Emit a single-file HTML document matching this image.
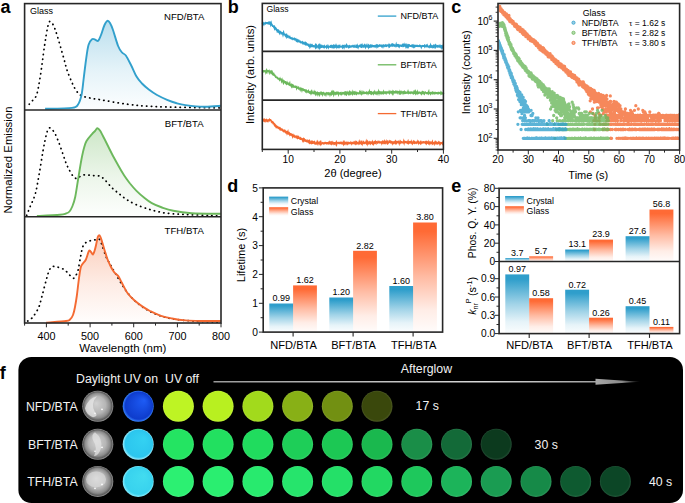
<!DOCTYPE html><html><head><meta charset="utf-8"><style>html,body{margin:0;padding:0;background:#fff;overflow:hidden}svg{display:block;font-family:"Liberation Sans",sans-serif}</style></head><body><svg width="685" height="503" viewBox="0 0 685 503" font-family="Liberation Sans, sans-serif"><defs><linearGradient id="gb" x1="0" y1="0" x2="0" y2="1"><stop offset="0" stop-color="#32a0cc" stop-opacity="0.34"/><stop offset="0.55" stop-color="#32a0cc" stop-opacity="0.13"/><stop offset="1" stop-color="#32a0cc" stop-opacity="0.01"/></linearGradient><linearGradient id="gg" x1="0" y1="0" x2="0" y2="1"><stop offset="0" stop-color="#6cb85c" stop-opacity="0.34"/><stop offset="0.55" stop-color="#6cb85c" stop-opacity="0.13"/><stop offset="1" stop-color="#6cb85c" stop-opacity="0.01"/></linearGradient><linearGradient id="go" x1="0" y1="0" x2="0" y2="1"><stop offset="0" stop-color="#f46a32" stop-opacity="0.34"/><stop offset="0.55" stop-color="#f46a32" stop-opacity="0.13"/><stop offset="1" stop-color="#f46a32" stop-opacity="0.01"/></linearGradient><clipPath id="cclip"><rect x="498.6" y="4.1" width="180.4" height="145.3"/></clipPath><linearGradient id="bb" x1="0" y1="0" x2="0" y2="1"><stop offset="0" stop-color="#2f9ecb"/><stop offset="0.08" stop-color="#2f9ecb"/><stop offset="0.5" stop-color="#2f9ecb" stop-opacity="0.45"/><stop offset="0.8" stop-color="#2f9ecb" stop-opacity="0.12"/><stop offset="1" stop-color="#2f9ecb" stop-opacity="0.02"/></linearGradient><linearGradient id="bo" x1="0" y1="0" x2="0" y2="1"><stop offset="0" stop-color="#ff6a35"/><stop offset="0.08" stop-color="#ff6a35"/><stop offset="0.5" stop-color="#ff6a35" stop-opacity="0.45"/><stop offset="0.8" stop-color="#ff6a35" stop-opacity="0.12"/><stop offset="1" stop-color="#ff6a35" stop-opacity="0.02"/></linearGradient><linearGradient id="dbb" gradientUnits="userSpaceOnUse" x1="0" y1="286" x2="0" y2="332.1"><stop offset="0" stop-color="#3a9dc9"/><stop offset="0.25" stop-color="#3a9dc9"/><stop offset="1" stop-color="#3a9dc9" stop-opacity="0"/></linearGradient><linearGradient id="dbo" gradientUnits="userSpaceOnUse" x1="0" y1="222.5" x2="0" y2="332.1"><stop offset="0" stop-color="#ff6a36"/><stop offset="0.12" stop-color="#ff6a36"/><stop offset="1" stop-color="#ff6a36" stop-opacity="0"/></linearGradient><linearGradient id="e1b" gradientUnits="userSpaceOnUse" x1="0" y1="236.2" x2="0" y2="261.5"><stop offset="0" stop-color="#3a9dc9"/><stop offset="1" stop-color="#3a9dc9" stop-opacity="0"/></linearGradient><linearGradient id="e1o" gradientUnits="userSpaceOnUse" x1="0" y1="209.5" x2="0" y2="261.5"><stop offset="0" stop-color="#ff6a36"/><stop offset="0.1" stop-color="#ff6a36"/><stop offset="1" stop-color="#ff6a36" stop-opacity="0"/></linearGradient><linearGradient id="e2b" gradientUnits="userSpaceOnUse" x1="0" y1="274.4" x2="0" y2="333.6"><stop offset="0" stop-color="#3a9dc9"/><stop offset="0.1" stop-color="#3a9dc9"/><stop offset="1" stop-color="#3a9dc9" stop-opacity="0"/></linearGradient><linearGradient id="e2o" gradientUnits="userSpaceOnUse" x1="0" y1="298.2" x2="0" y2="333.6"><stop offset="0" stop-color="#ff6a36"/><stop offset="0.1" stop-color="#ff6a36"/><stop offset="1" stop-color="#ff6a36" stop-opacity="0"/></linearGradient><linearGradient id="arr" x1="0" y1="0" x2="1" y2="0"><stop offset="0" stop-color="#9a9a9a"/><stop offset="0.7" stop-color="#d8d8d8"/><stop offset="1" stop-color="#a0a0a0"/></linearGradient><linearGradient id="arrh" x1="0" y1="0" x2="1" y2="0"><stop offset="0" stop-color="#a8a8a8"/><stop offset="0.6" stop-color="#8a8a8a"/><stop offset="1" stop-color="#111"/></linearGradient><radialGradient id="day" cx="0.5" cy="0.5" r="0.5" fx="0.45" fy="0.4"><stop offset="0" stop-color="#d2d2d2"/><stop offset="0.55" stop-color="#b6b6b6"/><stop offset="0.8" stop-color="#8c8c8c"/><stop offset="0.92" stop-color="#5c5c5c"/><stop offset="1" stop-color="#9c9c9c"/></radialGradient><radialGradient id="uv0" cx="0.5" cy="0.5" r="0.5" fx="0.7" fy="0.3"><stop offset="0" stop-color="#1e5cf6"/><stop offset="0.88" stop-color="#0e3ccc"/><stop offset="1" stop-color="#3a86ff"/></radialGradient><radialGradient id="o0_0" cx="0.5" cy="0.5" r="0.5" fx="0.4" fy="0.35"><stop offset="0" stop-color="#bef424"/><stop offset="0.7" stop-color="#bef424"/><stop offset="0.9" stop-color="#bef424"/><stop offset="1" stop-color="#c4f539"/></radialGradient><radialGradient id="o0_1" cx="0.5" cy="0.5" r="0.5" fx="0.4" fy="0.35"><stop offset="0" stop-color="#b8f020"/><stop offset="0.7" stop-color="#b8f020"/><stop offset="0.9" stop-color="#b8f020"/><stop offset="1" stop-color="#bff136"/></radialGradient><radialGradient id="o0_2" cx="0.5" cy="0.5" r="0.5" fx="0.4" fy="0.35"><stop offset="0" stop-color="#a2da1c"/><stop offset="0.7" stop-color="#a2da1c"/><stop offset="0.9" stop-color="#a2da1c"/><stop offset="1" stop-color="#abdd32"/></radialGradient><radialGradient id="o0_3" cx="0.5" cy="0.5" r="0.5" fx="0.4" fy="0.35"><stop offset="0" stop-color="#88b016"/><stop offset="0.7" stop-color="#88b016"/><stop offset="0.9" stop-color="#88b016"/><stop offset="1" stop-color="#93b72d"/></radialGradient><radialGradient id="o0_4" cx="0.5" cy="0.5" r="0.5" fx="0.4" fy="0.35"><stop offset="0" stop-color="#729012"/><stop offset="0.7" stop-color="#729012"/><stop offset="0.9" stop-color="#729012"/><stop offset="1" stop-color="#809b29"/></radialGradient><radialGradient id="o0_5" cx="0.5" cy="0.5" r="0.5" fx="0.4" fy="0.35"><stop offset="0" stop-color="#3a480c"/><stop offset="0.7" stop-color="#3a480c"/><stop offset="0.9" stop-color="#3a480c"/><stop offset="1" stop-color="#4d5a24"/></radialGradient><radialGradient id="uv1" cx="0.5" cy="0.5" r="0.5" fx="0.7" fy="0.3"><stop offset="0" stop-color="#34d2f2"/><stop offset="0.88" stop-color="#2cc6ee"/><stop offset="1" stop-color="#a0f0ff"/></radialGradient><radialGradient id="o1_0" cx="0.5" cy="0.5" r="0.5" fx="0.4" fy="0.35"><stop offset="0" stop-color="#24e462"/><stop offset="0.7" stop-color="#24e462"/><stop offset="0.9" stop-color="#24e462"/><stop offset="1" stop-color="#39e671"/></radialGradient><radialGradient id="o1_1" cx="0.5" cy="0.5" r="0.5" fx="0.4" fy="0.35"><stop offset="0" stop-color="#22e060"/><stop offset="0.7" stop-color="#22e060"/><stop offset="0.9" stop-color="#22e060"/><stop offset="1" stop-color="#38e36f"/></radialGradient><radialGradient id="o1_2" cx="0.5" cy="0.5" r="0.5" fx="0.4" fy="0.35"><stop offset="0" stop-color="#20dc5e"/><stop offset="0.7" stop-color="#20dc5e"/><stop offset="0.9" stop-color="#20dc5e"/><stop offset="1" stop-color="#36df6e"/></radialGradient><radialGradient id="o1_3" cx="0.5" cy="0.5" r="0.5" fx="0.4" fy="0.35"><stop offset="0" stop-color="#1ece58"/><stop offset="0.7" stop-color="#1ece58"/><stop offset="0.9" stop-color="#1ece58"/><stop offset="1" stop-color="#34d268"/></radialGradient><radialGradient id="o1_4" cx="0.5" cy="0.5" r="0.5" fx="0.4" fy="0.35"><stop offset="0" stop-color="#1cc854"/><stop offset="0.7" stop-color="#1cc854"/><stop offset="0.9" stop-color="#1cc854"/><stop offset="1" stop-color="#32cd65"/></radialGradient><radialGradient id="o1_5" cx="0.5" cy="0.5" r="0.5" fx="0.4" fy="0.35"><stop offset="0" stop-color="#1ab84e"/><stop offset="0.7" stop-color="#1ab84e"/><stop offset="0.9" stop-color="#1ab84e"/><stop offset="1" stop-color="#30bf5f"/></radialGradient><radialGradient id="o1_6" cx="0.5" cy="0.5" r="0.5" fx="0.4" fy="0.35"><stop offset="0" stop-color="#1a8e48"/><stop offset="0.7" stop-color="#1a8e48"/><stop offset="0.9" stop-color="#1a8e48"/><stop offset="1" stop-color="#30995a"/></radialGradient><radialGradient id="o1_7" cx="0.5" cy="0.5" r="0.5" fx="0.4" fy="0.35"><stop offset="0" stop-color="#136a38"/><stop offset="0.7" stop-color="#136a38"/><stop offset="0.9" stop-color="#136a38"/><stop offset="1" stop-color="#2a784b"/></radialGradient><radialGradient id="o1_8" cx="0.5" cy="0.5" r="0.5" fx="0.4" fy="0.35"><stop offset="0" stop-color="#0c3a1e"/><stop offset="0.7" stop-color="#0c3a1e"/><stop offset="0.9" stop-color="#0c3a1e"/><stop offset="1" stop-color="#244d34"/></radialGradient><radialGradient id="uv2" cx="0.5" cy="0.5" r="0.5" fx="0.7" fy="0.3"><stop offset="0" stop-color="#42dcf0"/><stop offset="0.88" stop-color="#38d2ee"/><stop offset="1" stop-color="#88eeff"/></radialGradient><radialGradient id="o2_0" cx="0.5" cy="0.5" r="0.5" fx="0.4" fy="0.35"><stop offset="0" stop-color="#2cf072"/><stop offset="0.7" stop-color="#2cf072"/><stop offset="0.9" stop-color="#2cf072"/><stop offset="1" stop-color="#41f180"/></radialGradient><radialGradient id="o2_1" cx="0.5" cy="0.5" r="0.5" fx="0.4" fy="0.35"><stop offset="0" stop-color="#2aee70"/><stop offset="0.7" stop-color="#2aee70"/><stop offset="0.9" stop-color="#2aee70"/><stop offset="1" stop-color="#3fef7e"/></radialGradient><radialGradient id="o2_2" cx="0.5" cy="0.5" r="0.5" fx="0.4" fy="0.35"><stop offset="0" stop-color="#28ea6e"/><stop offset="0.7" stop-color="#28ea6e"/><stop offset="0.9" stop-color="#28ea6e"/><stop offset="1" stop-color="#3dec7c"/></radialGradient><radialGradient id="o2_3" cx="0.5" cy="0.5" r="0.5" fx="0.4" fy="0.35"><stop offset="0" stop-color="#26e46c"/><stop offset="0.7" stop-color="#26e46c"/><stop offset="0.9" stop-color="#26e46c"/><stop offset="1" stop-color="#3be67a"/></radialGradient><radialGradient id="o2_4" cx="0.5" cy="0.5" r="0.5" fx="0.4" fy="0.35"><stop offset="0" stop-color="#24e068"/><stop offset="0.7" stop-color="#24e068"/><stop offset="0.9" stop-color="#24e068"/><stop offset="1" stop-color="#39e377"/></radialGradient><radialGradient id="o2_5" cx="0.5" cy="0.5" r="0.5" fx="0.4" fy="0.35"><stop offset="0" stop-color="#22d862"/><stop offset="0.7" stop-color="#22d862"/><stop offset="0.9" stop-color="#22d862"/><stop offset="1" stop-color="#38db71"/></radialGradient><radialGradient id="o2_6" cx="0.5" cy="0.5" r="0.5" fx="0.4" fy="0.35"><stop offset="0" stop-color="#1ec85c"/><stop offset="0.7" stop-color="#1ec85c"/><stop offset="0.9" stop-color="#1ec85c"/><stop offset="1" stop-color="#34cd6c"/></radialGradient><radialGradient id="o2_7" cx="0.5" cy="0.5" r="0.5" fx="0.4" fy="0.35"><stop offset="0" stop-color="#1cb45a"/><stop offset="0.7" stop-color="#1cb45a"/><stop offset="0.9" stop-color="#1cb45a"/><stop offset="1" stop-color="#32bb6a"/></radialGradient><radialGradient id="o2_8" cx="0.5" cy="0.5" r="0.5" fx="0.4" fy="0.35"><stop offset="0" stop-color="#1a9c52"/><stop offset="0.7" stop-color="#1a9c52"/><stop offset="0.9" stop-color="#1a9c52"/><stop offset="1" stop-color="#30a563"/></radialGradient><radialGradient id="o2_9" cx="0.5" cy="0.5" r="0.5" fx="0.4" fy="0.35"><stop offset="0" stop-color="#168a48"/><stop offset="0.7" stop-color="#168a48"/><stop offset="0.9" stop-color="#168a48"/><stop offset="1" stop-color="#2d955a"/></radialGradient><radialGradient id="o2_10" cx="0.5" cy="0.5" r="0.5" fx="0.4" fy="0.35"><stop offset="0" stop-color="#0e5a30"/><stop offset="0.7" stop-color="#0e5a30"/><stop offset="0.9" stop-color="#0e5a30"/><stop offset="1" stop-color="#266a44"/></radialGradient><radialGradient id="o2_11" cx="0.5" cy="0.5" r="0.5" fx="0.4" fy="0.35"><stop offset="0" stop-color="#0c4626"/><stop offset="0.7" stop-color="#0c4626"/><stop offset="0.9" stop-color="#0c4626"/><stop offset="1" stop-color="#24583b"/></radialGradient></defs><rect width="685" height="503" fill="#fff"/><path d="M45.1,108.8 C49.6,108.7 66.6,108.7 72.1,107.9 C77.6,107.1 76.6,106.4 78.2,104.2 C79.8,102 80.6,99 81.5,95 C82.4,91 82.8,85.8 83.5,80 C84.2,74.2 85.2,65.8 86,60 C86.8,54.2 87.5,48.5 88.5,45 C89.5,41.5 90.8,40.1 92,39.2 C93.2,38.3 94.5,39.5 95.5,39.8 C96.5,40.1 97.3,41.6 98.2,40.8 C99.1,40 100,37.6 101,35 C102,32.4 103.4,27.4 104.5,25 C105.6,22.6 106.5,21.1 107.4,20.8 C108.3,20.5 109.1,21.5 110,23 C110.9,24.5 111.7,26.2 113,30 C114.3,33.8 116.6,42.2 118.1,46 C119.6,49.8 120.7,50.9 122,52.5 C123.3,54.1 124.3,53.4 125.8,55.5 C127.3,57.6 129.2,61.5 131,65 C132.8,68.5 134.7,73.5 136.5,76.6 C138.3,79.7 139.9,81.3 142,83.5 C144.1,85.7 146.3,87.6 148.8,89.5 C151.3,91.4 153.9,93.3 157,95 C160.1,96.7 163.9,98.5 167.1,99.8 C170.3,101.1 172.9,102.1 176,103 C179.1,103.9 180.8,104.5 185.5,105.1 C190.2,105.7 198.1,106.6 204,106.7 C209.9,106.8 218,106 220.8,105.8 L220.8,110 L45.1,110 Z" fill="url(#gb)" stroke="none"/>
<path d="M29.2,104.2 C29.8,103.5 31.7,101.7 33,100 C34.3,98.3 35.6,98.2 36.9,94 C38.1,89.8 39.2,83 40.5,75 C41.8,67 43.3,53.8 44.5,46 C45.7,38.2 46.6,32.1 47.5,28 C48.4,23.9 48.8,22.1 49.7,21.5 C50.6,20.9 51.8,22.2 53,24.5 C54.2,26.8 55.4,29.9 57,35 C58.6,40.1 61.2,49.4 62.9,55.2 C64.6,61 65.5,65.4 67,70 C68.5,74.6 70.5,79.3 72.1,82.8 C73.7,86.3 75,88.9 76.5,91 C78,93.1 79,94.4 81.3,95.6 C83.5,96.8 86.9,97.3 90,98 C93.1,98.7 93.5,98.6 99.7,99.6 C105.9,100.6 117.6,103 127.3,104.2 C137,105.4 142.4,106.1 158,106.7 C173.6,107.3 210.3,107.7 220.8,107.9" fill="none" stroke="#000" stroke-width="1.75" stroke-dasharray="0.3 4.5" stroke-linecap="round"/>
<path d="M45.1,108.8 C49.6,108.7 66.6,108.7 72.1,107.9 C77.6,107.1 76.6,106.4 78.2,104.2 C79.8,102 80.6,99 81.5,95 C82.4,91 82.8,85.8 83.5,80 C84.2,74.2 85.2,65.8 86,60 C86.8,54.2 87.5,48.5 88.5,45 C89.5,41.5 90.8,40.1 92,39.2 C93.2,38.3 94.5,39.5 95.5,39.8 C96.5,40.1 97.3,41.6 98.2,40.8 C99.1,40 100,37.6 101,35 C102,32.4 103.4,27.4 104.5,25 C105.6,22.6 106.5,21.1 107.4,20.8 C108.3,20.5 109.1,21.5 110,23 C110.9,24.5 111.7,26.2 113,30 C114.3,33.8 116.6,42.2 118.1,46 C119.6,49.8 120.7,50.9 122,52.5 C123.3,54.1 124.3,53.4 125.8,55.5 C127.3,57.6 129.2,61.5 131,65 C132.8,68.5 134.7,73.5 136.5,76.6 C138.3,79.7 139.9,81.3 142,83.5 C144.1,85.7 146.3,87.6 148.8,89.5 C151.3,91.4 153.9,93.3 157,95 C160.1,96.7 163.9,98.5 167.1,99.8 C170.3,101.1 172.9,102.1 176,103 C179.1,103.9 180.8,104.5 185.5,105.1 C190.2,105.7 198.1,106.6 204,106.7 C209.9,106.8 218,106 220.8,105.8" fill="none" stroke="#32a0cc" stroke-width="1.9" stroke-linejoin="round"/>
<text x="184.2" y="20.2" font-size="9.6" text-anchor="middle" fill="#000">NFD/BTA</text>
<path d="M36.9,216 C40.7,215.8 55,215.1 59.9,214.7 C64.8,214.3 64.4,214 66,213.5 C67.6,213 68.4,212.8 69.5,211.5 C70.6,210.2 71.5,208.4 72.5,206 C73.5,203.6 74.3,201.3 75.2,197 C76.1,192.7 77,186.1 78,180 C79,173.9 80.3,165.5 81.3,160.2 C82.3,154.9 83.1,151.2 84,148 C84.9,144.8 85.2,143.3 86.5,141 C87.8,138.7 90.6,135.8 92,134.1 C93.4,132.4 94.1,132 95,131 C95.9,130 96.5,128.3 97.3,128.2 C98.1,128.1 99.1,129.2 100,130.5 C100.9,131.8 101.6,133.4 102.8,135.7 C104,137.9 105.5,140.9 107,144 C108.5,147.1 110.2,150.5 112,154 C113.8,157.5 116,161.4 118,165 C120,168.6 122.2,172.4 124.2,175.5 C126.2,178.6 128,180.9 130,183.5 C132.1,186.1 134.2,188.5 136.5,190.8 C138.8,193.1 141.4,195.4 144,197.5 C146.6,199.6 148.8,201.4 151.8,203.1 C154.8,204.8 158.4,206.2 162,207.5 C165.6,208.8 168.4,209.9 173.3,210.8 C178.2,211.8 183.8,212.7 191.7,213.2 C199.6,213.7 216,213.7 220.8,213.8 L220.8,216.7 L36.9,216.7 Z" fill="url(#gg)" stroke="none"/>
<path d="M26.7,215.4 C27.2,214 28.6,210.6 30,207 C31.4,203.4 33.8,199.2 35.3,193.9 C36.8,188.6 37.7,182.2 39,175 C40.3,167.8 41.8,157.8 43,151 C44.2,144.2 45.5,137.8 46.5,134 C47.5,130.2 48.2,128.8 49.1,128 C50,127.2 51,128.5 52,129.5 C53,130.5 54.1,131.8 55.3,134.1 C56.5,136.3 57.7,139.7 59,143 C60.3,146.3 61.7,150.7 62.9,154 C64.1,157.3 65,160.4 66,163 C67,165.6 67.8,167.2 69,169.4 C70.2,171.6 71.7,174.5 73,176 C74.3,177.5 75.5,178.5 76.7,178.6 C77.9,178.7 78.7,177.1 80,176.5 C81.3,175.9 82.4,175.1 84.4,174.9 C86.4,174.7 89.5,175.3 92,175.5 C94.5,175.7 97.5,175.3 99.7,176.1 C101.9,176.8 103,178.1 105,180 C107,181.9 109.5,185.4 112,187.8 C114.5,190.2 117.5,192.5 120,194.5 C122.5,196.5 124.5,198.2 127.3,200 C130.1,201.8 133.4,203.5 137,205 C140.6,206.5 145,208 148.8,209.2 C152.6,210.4 155.9,211.2 160,212 C164.1,212.8 163.2,213.1 173.3,213.8 C183.4,214.5 212.9,215.6 220.8,216" fill="none" stroke="#000" stroke-width="1.75" stroke-dasharray="0.3 4.5" stroke-linecap="round"/>
<path d="M36.9,216 C40.7,215.8 55,215.1 59.9,214.7 C64.8,214.3 64.4,214 66,213.5 C67.6,213 68.4,212.8 69.5,211.5 C70.6,210.2 71.5,208.4 72.5,206 C73.5,203.6 74.3,201.3 75.2,197 C76.1,192.7 77,186.1 78,180 C79,173.9 80.3,165.5 81.3,160.2 C82.3,154.9 83.1,151.2 84,148 C84.9,144.8 85.2,143.3 86.5,141 C87.8,138.7 90.6,135.8 92,134.1 C93.4,132.4 94.1,132 95,131 C95.9,130 96.5,128.3 97.3,128.2 C98.1,128.1 99.1,129.2 100,130.5 C100.9,131.8 101.6,133.4 102.8,135.7 C104,137.9 105.5,140.9 107,144 C108.5,147.1 110.2,150.5 112,154 C113.8,157.5 116,161.4 118,165 C120,168.6 122.2,172.4 124.2,175.5 C126.2,178.6 128,180.9 130,183.5 C132.1,186.1 134.2,188.5 136.5,190.8 C138.8,193.1 141.4,195.4 144,197.5 C146.6,199.6 148.8,201.4 151.8,203.1 C154.8,204.8 158.4,206.2 162,207.5 C165.6,208.8 168.4,209.9 173.3,210.8 C178.2,211.8 183.8,212.7 191.7,213.2 C199.6,213.7 216,213.7 220.8,213.8" fill="none" stroke="#6cb85c" stroke-width="1.9" stroke-linejoin="round"/>
<text x="184.2" y="126.7" font-size="9.6" text-anchor="middle" fill="#000">BFT/BTA</text>
<path d="M46.1,322.6 C49.4,322.3 62,321.5 66,321 C70,320.5 68.8,320.5 70,319.5 C71.2,318.5 72.2,317.1 73,315 C73.8,312.9 74.4,310.2 75,307 C75.6,303.8 76.2,300.2 76.8,296 C77.4,291.8 77.9,286.7 78.5,282 C79.1,277.3 79.9,271.1 80.6,268 C81.3,264.9 82,264.9 82.9,263.5 C83.8,262.1 84.9,261.6 85.9,259.5 C86.9,257.4 88.1,252.2 88.9,251 C89.8,249.8 90.3,251.4 91,252 C91.7,252.6 92.3,254.7 92.9,254.5 C93.5,254.3 94,252.5 94.5,251 C95,249.5 95.5,247.6 96,245.3 C96.5,243 97.3,238.7 97.8,237 C98.3,235.3 98.6,235.1 99.1,235.1 C99.5,235.1 100,235.8 100.5,237 C101,238.2 101.5,240 102.2,242.2 C102.9,244.4 103.6,247.2 104.5,250 C105.4,252.8 106.5,256.5 107.4,259 C108.3,261.5 109,262.9 110,265 C111,267.1 112.5,269.8 113.5,271.3 C114.5,272.8 115.2,273.2 116,274 C116.8,274.8 117.1,274.4 118.1,275.9 C119.1,277.4 120.5,280.2 122,283 C123.5,285.8 125.3,290 127.3,292.8 C129.3,295.6 131.4,297.7 134,300 C136.6,302.3 139.9,304.8 142.6,306.6 C145.3,308.4 146.9,309.5 150,311 C153.1,312.5 157.3,314.6 161,315.8 C164.7,317.1 167.9,317.7 172,318.5 C176.1,319.3 180.8,320 185.5,320.4 C190.2,320.8 194.1,320.9 200,321 C205.9,321.1 217.3,321 220.8,321 L220.8,323 L46.1,323 Z" fill="url(#go)" stroke="none"/>
<path d="M27.7,321 C28.4,320.5 30.2,320.1 32,318 C33.8,315.9 36.7,311.8 38.4,308.1 C40.1,304.4 40.7,300.6 42,296 C43.3,291.4 44.9,284.7 46.1,280.5 C47.3,276.3 48,273.3 49,271 C50,268.7 50.9,267.4 52.2,266.7 C53.5,266 55.2,266.6 57,267 C58.8,267.4 61.2,268.1 62.9,268.9 C64.6,269.7 65.4,270.5 67,272 C68.6,273.5 71.3,277.4 72.7,278.1 C74.1,278.8 74.6,277.4 75.5,276 C76.4,274.6 77.4,273 78.2,269.8 C79,266.6 79.7,260.8 80.5,257 C81.3,253.2 81.9,249.2 82.8,246.8 C83.7,244.4 84.7,243.5 86,242.5 C87.3,241.5 89,241.1 90.5,240.7 C92,240.2 93.6,240.1 95,239.8 C96.4,239.5 97.9,238.2 99.1,239.1 C100.3,240 100.9,242.2 102,245 C103.1,247.8 104.5,252.8 105.8,256 C107.1,259.2 108.5,261.2 110,264 C111.5,266.8 113.2,269.6 115,272.8 C116.8,276 119,279.7 121,283 C123,286.3 125,289.5 127.3,292.5 C129.6,295.5 131.9,298.2 135,301 C138.1,303.8 141.9,306.7 145.7,309 C149.5,311.3 153.4,313.3 158,315 C162.6,316.7 167.1,318 173.3,319 C179.5,320 187.1,320.7 195,321.2 C202.9,321.7 216.5,321.9 220.8,322" fill="none" stroke="#000" stroke-width="1.75" stroke-dasharray="0.3 4.5" stroke-linecap="round"/>
<path d="M46.1,322.6 C49.4,322.3 62,321.5 66,321 C70,320.5 68.8,320.5 70,319.5 C71.2,318.5 72.2,317.1 73,315 C73.8,312.9 74.4,310.2 75,307 C75.6,303.8 76.2,300.2 76.8,296 C77.4,291.8 77.9,286.7 78.5,282 C79.1,277.3 79.9,271.1 80.6,268 C81.3,264.9 82,264.9 82.9,263.5 C83.8,262.1 84.9,261.6 85.9,259.5 C86.9,257.4 88.1,252.2 88.9,251 C89.8,249.8 90.3,251.4 91,252 C91.7,252.6 92.3,254.7 92.9,254.5 C93.5,254.3 94,252.5 94.5,251 C95,249.5 95.5,247.6 96,245.3 C96.5,243 97.3,238.7 97.8,237 C98.3,235.3 98.6,235.1 99.1,235.1 C99.5,235.1 100,235.8 100.5,237 C101,238.2 101.5,240 102.2,242.2 C102.9,244.4 103.6,247.2 104.5,250 C105.4,252.8 106.5,256.5 107.4,259 C108.3,261.5 109,262.9 110,265 C111,267.1 112.5,269.8 113.5,271.3 C114.5,272.8 115.2,273.2 116,274 C116.8,274.8 117.1,274.4 118.1,275.9 C119.1,277.4 120.5,280.2 122,283 C123.5,285.8 125.3,290 127.3,292.8 C129.3,295.6 131.4,297.7 134,300 C136.6,302.3 139.9,304.8 142.6,306.6 C145.3,308.4 146.9,309.5 150,311 C153.1,312.5 157.3,314.6 161,315.8 C164.7,317.1 167.9,317.7 172,318.5 C176.1,319.3 180.8,320 185.5,320.4 C190.2,320.8 194.1,320.9 200,321 C205.9,321.1 217.3,321 220.8,321" fill="none" stroke="#f46a32" stroke-width="1.9" stroke-linejoin="round"/>
<text x="184.2" y="233.5" font-size="9.6" text-anchor="middle" fill="#000">TFH/BTA</text>
<rect x="24.6" y="3.6" width="196.4" height="319.4" fill="none" stroke="#262626" stroke-width="1.6"/>
<line x1="24.6" y1="110" x2="221" y2="110" stroke="#262626" stroke-width="1.6"/>
<line x1="24.6" y1="216.7" x2="221" y2="216.7" stroke="#262626" stroke-width="1.6"/>
<line x1="24.6" y1="323" x2="24.6" y2="325.6" stroke="#262626" stroke-width="1"/>
<line x1="46.4" y1="323" x2="46.4" y2="327.3" stroke="#262626" stroke-width="1"/>
<text x="46.4" y="340" font-size="10.8" text-anchor="middle" fill="#000">400</text>
<line x1="68.2" y1="323" x2="68.2" y2="325.6" stroke="#262626" stroke-width="1"/>
<line x1="90.1" y1="323" x2="90.1" y2="327.3" stroke="#262626" stroke-width="1"/>
<text x="90.1" y="340" font-size="10.8" text-anchor="middle" fill="#000">500</text>
<line x1="111.9" y1="323" x2="111.9" y2="325.6" stroke="#262626" stroke-width="1"/>
<line x1="133.7" y1="323" x2="133.7" y2="327.3" stroke="#262626" stroke-width="1"/>
<text x="133.7" y="340" font-size="10.8" text-anchor="middle" fill="#000">600</text>
<line x1="155.5" y1="323" x2="155.5" y2="325.6" stroke="#262626" stroke-width="1"/>
<line x1="177.4" y1="323" x2="177.4" y2="327.3" stroke="#262626" stroke-width="1"/>
<text x="177.4" y="340" font-size="10.8" text-anchor="middle" fill="#000">700</text>
<line x1="199.2" y1="323" x2="199.2" y2="325.6" stroke="#262626" stroke-width="1"/>
<line x1="221" y1="323" x2="221" y2="327.3" stroke="#262626" stroke-width="1"/>
<text x="221" y="340" font-size="10.8" text-anchor="middle" fill="#000">800</text>
<text x="122.8" y="352.1" font-size="11.5" text-anchor="middle" fill="#000">Wavelength (nm)</text>
<text x="41.6" y="14.3" font-size="9" text-anchor="middle" fill="#000">Glass</text>
<text x="11.7" y="160" font-size="11.4" text-anchor="middle" fill="#000" transform="rotate(-90 11.7 160)">Normalized Emission</text>
<text x="0.5" y="13.4" font-size="18" text-anchor="start" font-weight="bold" fill="#000">a</text>
<path d="M262.3,23.2 L262.6,23.6 L262.8,22.9 L263.1,23.5 L263.3,23.1 L263.6,23.2 L263.9,23.9 L264.1,23.3 L264.4,23.2 L264.6,23.5 L264.9,23.6 L265.1,23.3 L265.4,23.5 L265.7,23 L265.9,23.2 L266.2,23.2 L266.4,22.9 L266.7,22.8 L267,22.8 L267.2,23.3 L267.5,23.3 L267.7,23.2 L268,23.4 L268.3,22.9 L268.5,23.3 L268.8,23.5 L269,23.6 L269.3,23.1 L269.5,23.3 L269.8,22.7 L270.1,23.3 L270.3,22.7 L270.6,23 L270.8,24.1 L271.1,23.3 L271.4,24.5 L271.6,24.7 L271.9,24.7 L272.1,25.3 L272.4,25.6 L272.6,26 L272.9,25.9 L273.2,26.1 L273.4,26.3 L273.7,26.5 L273.9,27.1 L274.2,27.1 L274.5,28 L274.7,27.3 L275,27.9 L275.2,28.2 L275.5,28.1 L275.8,29.7 L276,28.6 L276.3,29.6 L276.5,29.8 L276.8,30.8 L277,29.7 L277.3,30.9 L277.6,30.4 L277.8,30.7 L278.1,30.7 L278.3,31.3 L278.6,30.8 L278.9,31.3 L279.1,31.6 L279.4,32.3 L279.6,31 L279.9,32.4 L280.2,32.4 L280.4,32.1 L280.7,32.5 L280.9,32.4 L281.2,33.2 L281.4,32.9 L281.7,32.9 L282,33 L282.2,33.2 L282.5,33.3 L282.7,33.2 L283,34.3 L283.3,33.2 L283.5,32.7 L283.8,34 L284,34.2 L284.3,34.5 L284.5,34.4 L284.8,34.6 L285.1,34.9 L285.3,35.3 L285.6,34.9 L285.8,35.1 L286.1,36 L286.4,35.7 L286.6,35.3 L286.9,36.6 L287.1,36.2 L287.4,35.9 L287.7,35.8 L287.9,36.5 L288.2,36.2 L288.4,36.3 L288.7,36.4 L288.9,36.8 L289.2,37.4 L289.5,37.1 L289.7,36.9 L290,37.7 L290.2,37.7 L290.5,38.1 L290.8,38.3 L291,38 L291.3,38.1 L291.5,38.2 L291.8,38 L292.1,38.7 L292.3,39 L292.6,38.7 L292.8,38.7 L293.1,38.8 L293.3,38.7 L293.6,38.8 L293.9,39.1 L294.1,39 L294.4,39.3 L294.6,39 L294.9,39.7 L295.2,39.7 L295.4,39.4 L295.7,39.2 L295.9,40 L296.2,40.5 L296.5,40 L296.7,40.2 L297,40.3 L297.2,40.8 L297.5,40.4 L297.7,41.1 L298,40.8 L298.3,41.3 L298.5,41.1 L298.8,41.1 L299,40.8 L299.3,41.2 L299.6,41.4 L299.8,41.8 L300.1,41.8 L300.3,41.6 L300.6,42.1 L300.8,42.4 L301.1,42.1 L301.4,42.1 L301.6,42.2 L301.9,42.7 L302.1,42.7 L302.4,42.3 L302.7,42.9 L302.9,42.7 L303.2,42.7 L303.4,43.5 L303.7,43.4 L304,43 L304.2,43.4 L304.5,43.7 L304.7,43.4 L305,43.7 L305.2,44 L305.5,43.3 L305.8,44.1 L306,44.4 L306.3,44.4 L306.5,43.9 L306.8,44.5 L307.1,44.3 L307.3,44.8 L307.6,44.9 L307.8,44.9 L308.1,44.7 L308.4,44.9 L308.6,45.4 L308.9,45 L309.1,45.5 L309.4,45.6 L309.6,45.5 L309.9,46.5 L310.2,45.8 L310.4,46.6 L310.7,45.3 L310.9,45.2 L311.2,46.3 L311.5,46.2 L311.7,45.9 L312,46 L312.2,45.4 L312.5,45.9 L312.7,45.7 L313,46 L313.3,46.4 L313.5,46.2 L313.8,46.3 L314,46 L314.3,46.1 L314.6,46.3 L314.8,46.2 L315.1,46.7 L315.3,46 L315.6,46.9 L315.9,46 L316.1,46.7 L316.4,46.1 L316.6,46.9 L316.9,46.5 L317.1,46.6 L317.4,46.7 L317.7,46.3 L317.9,46.2 L318.2,45.8 L318.4,46.9 L318.7,46.3 L319,46.4 L319.2,46.6 L319.5,47.3 L319.7,46 L320,46.7 L320.3,46.5 L320.5,46.8 L320.8,46 L321,46.5 L321.3,46.9 L321.5,47.1 L321.8,47.1 L322.1,46.3 L322.3,46.6 L322.6,46.6 L322.8,46.1 L323.1,46.1 L323.4,46.8 L323.6,46.7 L323.9,46.5 L324.1,47 L324.4,46.3 L324.7,46.8 L324.9,46.6 L325.2,46.6 L325.4,46.8 L325.7,46.7 L325.9,46.7 L326.2,46.7 L326.5,47.2 L326.7,46.5 L327,46.9 L327.2,46.8 L327.5,46.5 L327.8,46.9 L328,46.3 L328.3,47 L328.5,46.3 L328.8,46.4 L329,46.7 L329.3,46.9 L329.6,46.9 L329.8,46.9 L330.1,46.5 L330.3,46.3 L330.6,46.8 L330.9,46.7 L331.1,46.3 L331.4,46.9 L331.6,46.7 L331.9,46.3 L332.2,46.7 L332.4,46.1 L332.7,46.3 L332.9,46.7 L333.2,46.1 L333.4,46.6 L333.7,46.1 L334,46.8 L334.2,46.3 L334.5,46.6 L334.7,46.1 L335,46.5 L335.3,46.9 L335.5,46.7 L335.8,46 L336,46.9 L336.3,46.9 L336.6,46.5 L336.8,47 L337.1,46.2 L337.3,46.5 L337.6,46.9 L337.8,47 L338.1,47 L338.4,46.2 L338.6,46 L338.9,46.7 L339.1,46.1 L339.4,46.5 L339.7,46.1 L339.9,46.9 L340.2,46.8 L340.4,46.7 L340.7,46.6 L340.9,46.6 L341.2,46.5 L341.5,46.7 L341.7,46.6 L342,46.7 L342.2,46.4 L342.5,47.2 L342.8,46.6 L343,47 L343.3,47 L343.5,46.3 L343.8,46 L344.1,47 L344.3,46.4 L344.6,46.6 L344.8,46.5 L345.1,46.6 L345.3,46.1 L345.6,46.5 L345.9,46.4 L346.1,46.5 L346.4,45.8 L346.6,46.8 L346.9,46.6 L347.2,46 L347.4,46.3 L347.7,46.5 L347.9,46.7 L348.2,46.5 L348.5,47 L348.7,46.5 L349,46.2 L349.2,46.3 L349.5,46.7 L349.7,46.3 L350,46.8 L350.3,46.8 L350.5,46.7 L350.8,46.8 L351,46.4 L351.3,46.5 L351.6,46.3 L351.8,46.3 L352.1,46 L352.3,46.3 L352.6,46.1 L352.9,46 L353.1,46.5 L353.4,46.6 L353.6,46.3 L353.9,46.9 L354.1,46.8 L354.4,46.8 L354.7,46.2 L354.9,45.9 L355.2,46.6 L355.4,46.5 L355.7,46.7 L356,46.6 L356.2,46.8 L356.5,46.3 L356.7,46.6 L357,46.1 L357.2,45.6 L357.5,46.3 L357.8,46.9 L358,45.8 L358.3,46.7 L358.5,46.2 L358.8,46.2 L359.1,46.4 L359.3,46.4 L359.6,46 L359.8,46.4 L360.1,46.5 L360.4,46.6 L360.6,46.1 L360.9,46.9 L361.1,47 L361.4,47.1 L361.6,45.9 L361.9,46.4 L362.2,45.7 L362.4,46.4 L362.7,46.5 L362.9,45.9 L363.2,45.8 L363.5,46.3 L363.7,46.5 L364,46 L364.2,46.2 L364.5,45.4 L364.8,46 L365,46.3 L365.3,46.3 L365.5,46.8 L365.8,45.9 L366,45.5 L366.3,46.4 L366.6,46 L366.8,46.3 L367.1,46.4 L367.3,46.4 L367.6,46.7 L367.9,46.6 L368.1,45.6 L368.4,46.1 L368.6,46.8 L368.9,46 L369.1,46.5 L369.4,46.1 L369.7,46 L369.9,46.7 L370.2,46.5 L370.4,46 L370.7,46.4 L371,45.7 L371.2,45.9 L371.5,46.4 L371.7,46.1 L372,45.7 L372.3,46.2 L372.5,46.2 L372.8,46.5 L373,46.4 L373.3,45.9 L373.5,45.9 L373.8,46 L374.1,45.9 L374.3,46.5 L374.6,46.5 L374.8,46.4 L375.1,46.1 L375.4,45.9 L375.6,46.3 L375.9,45.9 L376.1,46 L376.4,45.4 L376.7,45.8 L376.9,46.4 L377.2,45.6 L377.4,45.4 L377.7,45.9 L377.9,46.5 L378.2,46.4 L378.5,45.8 L378.7,45.7 L379,45.8 L379.2,45.6 L379.5,45.9 L379.8,45.8 L380,45.4 L380.3,45.7 L380.5,45.8 L380.8,45.6 L381,45.5 L381.3,46.1 L381.6,46.4 L381.8,45.7 L382.1,45.7 L382.3,46 L382.6,45.7 L382.9,45.5 L383.1,46.2 L383.4,45.4 L383.6,45.5 L383.9,45.5 L384.2,45.5 L384.4,45.7 L384.7,45.9 L384.9,46.2 L385.2,45.9 L385.4,45.7 L385.7,45.3 L386,45.7 L386.2,45.4 L386.5,45.7 L386.7,46 L387,45.8 L387.3,45.6 L387.5,45.4 L387.8,45.7 L388,45.7 L388.3,45.4 L388.6,45.5 L388.8,46 L389.1,45.1 L389.3,45.5 L389.6,45.3 L389.8,46.2 L390.1,45.8 L390.4,45.8 L390.6,45.8 L390.9,45.7 L391.1,45.7 L391.4,45.1 L391.7,45.7 L391.9,45.8 L392.2,45.2 L392.4,45.9 L392.7,45.8 L393,45.1 L393.2,45.5 L393.5,45.5 L393.7,45.4 L394,45.7 L394.2,45.2 L394.5,45.5 L394.8,45.7 L395,45.8 L395.3,45.6 L395.5,45.5 L395.8,45.8 L396.1,44.9 L396.3,45.9 L396.6,45.5 L396.8,45.2 L397.1,45.5 L397.3,45 L397.6,44.9 L397.9,45.5 L398.1,45.3 L398.4,45.8 L398.6,45.3 L398.9,45.2 L399.2,45.3 L399.4,46.2 L399.7,45.6 L399.9,45.4 L400.2,45.3 L400.5,45.3 L400.7,45.6 L401,45.8 L401.2,46 L401.5,46 L401.7,45.7 L402,45.4 L402.3,45.3 L402.5,44.9 L402.8,45.3 L403,45.8 L403.3,45.5 L403.6,45.8 L403.8,45.2 L404.1,45.9 L404.3,45.8 L404.6,45.7 L404.9,45.8 L405.1,44.9 L405.4,45.5 L405.6,45.4 L405.9,46.3 L406.1,45.6 L406.4,45.5 L406.7,46 L406.9,45.4 L407.2,46.2 L407.4,45.5 L407.7,45.7 L408,45.4 L408.2,46 L408.5,45 L408.7,46 L409,45.5 L409.2,45.8 L409.5,45.4 L409.8,45.8 L410,45.8 L410.3,46 L410.5,45.9 L410.8,46 L411.1,46.1 L411.3,45.7 L411.6,45.4 L411.8,45.4 L412.1,46 L412.4,45.7 L412.6,46.2 L412.9,45.8 L413.1,45.5 L413.4,46.1 L413.6,46.5 L413.9,45.8 L414.2,45.6 L414.4,45.6 L414.7,46.2 L414.9,45.7 L415.2,45.8 L415.5,46.1 L415.7,45.9 L416,46 L416.2,45.7 L416.5,45.7 L416.8,46 L417,46 L417.3,46.1 L417.5,45.8 L417.8,46.1 L418,46.1 L418.3,46 L418.6,46.2 L418.8,46.3 L419.1,46.1 L419.3,46 L419.6,45.7 L419.9,46.1 L420.1,46 L420.4,45.9 L420.6,45.8 L420.9,46.2 L421.2,46.9 L421.4,46.2 L421.7,46.1 L421.9,46.2 L422.2,45.9 L422.4,46.1 L422.7,45.9 L423,45.9 L423.2,46.2 L423.5,46.2 L423.7,46.1 L424,45.9 L424.3,46.2 L424.5,45.8 L424.8,46.4 L425,46 L425.3,46.2 L425.5,46.4 L425.8,46.4 L426.1,45.8 L426.3,46.1 L426.6,46.3 L426.8,45.8 L427.1,45.4 L427.4,46.2 L427.6,46.2 L427.9,46.4 L428.1,46.3 L428.4,46.3 L428.7,46.3 L428.9,46.7 L429.2,46.4 L429.4,46.4 L429.7,46.1 L429.9,46.7 L430.2,46.2 L430.5,46.5 L430.7,45.6 L431,46.4 L431.2,46.3 L431.5,46.2 L431.8,46.7 L432,46.5 L432.3,46.3 L432.5,46.2 L432.8,47 L433.1,46.6 L433.3,46.6 L433.6,46.1 L433.8,46.8 L434.1,46.5 L434.3,46.3 L434.6,46.3 L434.9,45.8 L435.1,46.6 L435.4,46 L435.6,46.7 L435.9,46.2 L436.2,46.2 L436.4,46.5 L436.7,46.5 L436.9,46 L437.2,46.4 L437.4,46.6 L437.7,46.3 L438,46 L438.2,46.4 L438.5,46.1 L438.7,46.2 L439,46.5 L439.3,46.4 L439.5,46.4 L439.8,45.9 L440,46.6 L440.3,46.4 L440.6,46.3 L440.8,46.5 L441.1,47.1 L441.3,46 L441.6,45.9 L441.8,46.7 L442.1,46.2 L442.4,46.9 L442.6,46.2 L442.9,46.3 L443.1,46.8 L443.4,46.8" fill="none" stroke="#32a0cc" stroke-width="1.8"/>
<line x1="377.8" y1="16.1" x2="396.3" y2="16.1" stroke="#32a0cc" stroke-width="1.3"/>
<text x="400.5" y="19.4" font-size="9.0" text-anchor="start" fill="#000">NFD/BTA</text>
<path d="M262.3,71.1 L262.6,71.2 L262.8,71 L263.1,70.9 L263.3,71 L263.6,71.5 L263.9,71.3 L264.1,71.1 L264.4,71.2 L264.6,71.3 L264.9,71.5 L265.1,71 L265.4,71.1 L265.7,71.2 L265.9,72 L266.2,71.2 L266.4,71.5 L266.7,70.6 L267,71.4 L267.2,70.7 L267.5,70.8 L267.7,70.9 L268,71.1 L268.3,71.2 L268.5,71.3 L268.8,71.2 L269,71 L269.3,72 L269.5,71.3 L269.8,71.4 L270.1,71.9 L270.3,71.5 L270.6,71.4 L270.8,71.6 L271.1,72.4 L271.4,71.7 L271.6,72 L271.9,72.6 L272.1,72.2 L272.4,72.9 L272.6,73.8 L272.9,73.5 L273.2,74 L273.4,74.4 L273.7,74.1 L273.9,74.8 L274.2,74.8 L274.5,74.9 L274.7,75.5 L275,75.8 L275.2,76 L275.5,76.2 L275.8,77 L276,77.3 L276.3,77.4 L276.5,77.4 L276.8,77.4 L277,77.6 L277.3,77.6 L277.6,78.2 L277.8,78.6 L278.1,78.7 L278.3,78.5 L278.6,78.6 L278.9,78.9 L279.1,79 L279.4,79.3 L279.6,79.7 L279.9,79.1 L280.2,80.2 L280.4,79 L280.7,79.2 L280.9,79.4 L281.2,79.7 L281.4,80.1 L281.7,81 L282,80.2 L282.2,81 L282.5,80.6 L282.7,80.9 L283,80.7 L283.3,81.9 L283.5,81.3 L283.8,81.2 L284,82.3 L284.3,81.7 L284.5,82 L284.8,81.9 L285.1,81.8 L285.3,81.8 L285.6,82.3 L285.8,83 L286.1,82.8 L286.4,82.7 L286.6,83.3 L286.9,82.8 L287.1,83.6 L287.4,83.3 L287.7,83.2 L287.9,83.8 L288.2,83.9 L288.4,83.8 L288.7,84.1 L288.9,84.5 L289.2,84.8 L289.5,84.2 L289.7,83.7 L290,85.4 L290.2,84.8 L290.5,84.8 L290.8,85.3 L291,85.1 L291.3,85.7 L291.5,85 L291.8,85.4 L292.1,85.2 L292.3,86.2 L292.6,85.7 L292.8,86.3 L293.1,86.5 L293.3,85.7 L293.6,86.1 L293.9,86.5 L294.1,86.4 L294.4,86.5 L294.6,86.9 L294.9,87 L295.2,86.6 L295.4,86.9 L295.7,87.2 L295.9,87.2 L296.2,87.3 L296.5,87 L296.7,88 L297,87.4 L297.2,87.7 L297.5,87.7 L297.7,87.8 L298,88 L298.3,87.7 L298.5,88.2 L298.8,88.6 L299,88.4 L299.3,88.7 L299.6,88.7 L299.8,88.6 L300.1,89.3 L300.3,88.6 L300.6,89 L300.8,89.4 L301.1,89.2 L301.4,88.9 L301.6,89 L301.9,89.9 L302.1,89.2 L302.4,89.6 L302.7,89.9 L302.9,89.9 L303.2,89.3 L303.4,89.4 L303.7,90.1 L304,90 L304.2,90.2 L304.5,90.5 L304.7,90.6 L305,90.2 L305.2,90.2 L305.5,91.1 L305.8,90.7 L306,90.6 L306.3,90.5 L306.5,91.4 L306.8,90.9 L307.1,91.1 L307.3,91.7 L307.6,91.7 L307.8,91.9 L308.1,91.4 L308.4,91 L308.6,91.7 L308.9,92 L309.1,92 L309.4,92.6 L309.6,92.5 L309.9,92.2 L310.2,92.8 L310.4,92.7 L310.7,92.6 L310.9,93.1 L311.2,92.2 L311.5,93.1 L311.7,93.2 L312,92.2 L312.2,92.8 L312.5,92.8 L312.7,92.5 L313,92.7 L313.3,92.7 L313.5,93 L313.8,92.8 L314,92.3 L314.3,93.4 L314.6,93.3 L314.8,92.8 L315.1,93.4 L315.3,93.8 L315.6,92.6 L315.9,93 L316.1,93 L316.4,93.4 L316.6,93.1 L316.9,92.8 L317.1,93.7 L317.4,93.2 L317.7,93.5 L317.9,94.1 L318.2,93.1 L318.4,93.2 L318.7,93.7 L319,93.3 L319.2,93.6 L319.5,93.4 L319.7,94.3 L320,93.6 L320.3,93.5 L320.5,93.4 L320.8,93.5 L321,92.9 L321.3,93.3 L321.5,93.6 L321.8,93 L322.1,93.4 L322.3,93.4 L322.6,93.2 L322.8,94.2 L323.1,93.6 L323.4,93.5 L323.6,93.1 L323.9,93.4 L324.1,93.3 L324.4,93.4 L324.7,93.5 L324.9,94.2 L325.2,93.8 L325.4,94 L325.7,93.8 L325.9,94.3 L326.2,93.2 L326.5,93 L326.7,93.5 L327,93.5 L327.2,93.4 L327.5,93.2 L327.8,93.6 L328,94 L328.3,93.5 L328.5,93.3 L328.8,93.8 L329,93.3 L329.3,93.3 L329.6,93.5 L329.8,92.6 L330.1,94 L330.3,93.4 L330.6,93.6 L330.9,93.5 L331.1,93.5 L331.4,92.9 L331.6,94 L331.9,93.6 L332.2,93.5 L332.4,94.4 L332.7,93 L332.9,93.6 L333.2,93.4 L333.4,92.9 L333.7,94 L334,92.9 L334.2,93.4 L334.5,93.4 L334.7,93.4 L335,93.1 L335.3,93.8 L335.5,93.5 L335.8,93 L336,93 L336.3,93.5 L336.6,93 L336.8,93.5 L337.1,93.5 L337.3,93.2 L337.6,92.7 L337.8,92.9 L338.1,93.5 L338.4,93.2 L338.6,94 L338.9,93.2 L339.1,93.5 L339.4,93.6 L339.7,93.4 L339.9,93.5 L340.2,93.7 L340.4,93.3 L340.7,93.5 L340.9,93.2 L341.2,94 L341.5,93.4 L341.7,93.6 L342,92.4 L342.2,93.2 L342.5,93 L342.8,93.4 L343,93.2 L343.3,93 L343.5,93.3 L343.8,93.6 L344.1,93.7 L344.3,93.2 L344.6,93.7 L344.8,93.1 L345.1,93.5 L345.3,93.1 L345.6,93.7 L345.9,94.1 L346.1,93.2 L346.4,93.7 L346.6,92.8 L346.9,93.1 L347.2,94.2 L347.4,93.3 L347.7,93.5 L347.9,92.8 L348.2,93.3 L348.5,93.1 L348.7,93.7 L349,93.1 L349.2,94.1 L349.5,92.9 L349.7,93.4 L350,92.6 L350.3,93.2 L350.5,93.7 L350.8,93.3 L351,92.9 L351.3,93.4 L351.6,93.6 L351.8,93.4 L352.1,93.6 L352.3,92.8 L352.6,93.9 L352.9,93.5 L353.1,92.6 L353.4,93.9 L353.6,93.1 L353.9,93.4 L354.1,92.6 L354.4,93 L354.7,92.6 L354.9,93.5 L355.2,93.2 L355.4,92.9 L355.7,93.1 L356,93.6 L356.2,93 L356.5,93.4 L356.7,92.8 L357,92.7 L357.2,93 L357.5,93.1 L357.8,93.3 L358,93.5 L358.3,93.1 L358.5,93.1 L358.8,93.4 L359.1,93.3 L359.3,93.2 L359.6,93.2 L359.8,92.4 L360.1,93 L360.4,92.6 L360.6,93 L360.9,93.4 L361.1,92.6 L361.4,93.4 L361.6,92.9 L361.9,93 L362.2,93 L362.4,93.3 L362.7,92.9 L362.9,92.4 L363.2,93.2 L363.5,93 L363.7,93.3 L364,93.3 L364.2,92.7 L364.5,93.1 L364.8,93.1 L365,93 L365.3,93.1 L365.5,93.1 L365.8,92.8 L366,93 L366.3,93.3 L366.6,92.7 L366.8,93 L367.1,92.7 L367.3,92.6 L367.6,92.9 L367.9,93 L368.1,93.5 L368.4,92.9 L368.6,93.3 L368.9,93.1 L369.1,93 L369.4,91.9 L369.7,93 L369.9,92.9 L370.2,92.6 L370.4,93 L370.7,93.4 L371,92.5 L371.2,92.7 L371.5,93.2 L371.7,92.3 L372,92.5 L372.3,93 L372.5,93.2 L372.8,93.3 L373,93.1 L373.3,93.6 L373.5,93 L373.8,92.4 L374.1,92.8 L374.3,93 L374.6,92.9 L374.8,92.2 L375.1,92.9 L375.4,92.5 L375.6,92.7 L375.9,93.2 L376.1,92.7 L376.4,92.5 L376.7,92.7 L376.9,92.5 L377.2,93.4 L377.4,93 L377.7,93 L377.9,92.5 L378.2,92.5 L378.5,92.8 L378.7,92 L379,93 L379.2,92.3 L379.5,92.7 L379.8,92.8 L380,92.4 L380.3,92.8 L380.5,92.9 L380.8,93.3 L381,92.8 L381.3,93.2 L381.6,92.8 L381.8,92.5 L382.1,92.9 L382.3,92.4 L382.6,92.6 L382.9,92.8 L383.1,93 L383.4,92.7 L383.6,92.1 L383.9,93 L384.2,92.6 L384.4,92.4 L384.7,92.3 L384.9,92.7 L385.2,92.6 L385.4,92.8 L385.7,92.5 L386,93 L386.2,92.4 L386.5,92.6 L386.7,92.6 L387,92.8 L387.3,92.3 L387.5,92.4 L387.8,92.4 L388,92.3 L388.3,92.3 L388.6,92.1 L388.8,92.7 L389.1,93 L389.3,92.1 L389.6,92.7 L389.8,92.1 L390.1,92.2 L390.4,92.3 L390.6,92.5 L390.9,92.6 L391.1,91.8 L391.4,92 L391.7,92.5 L391.9,92.3 L392.2,93.1 L392.4,92.3 L392.7,92.2 L393,92.8 L393.2,91.5 L393.5,91.8 L393.7,93.3 L394,92.2 L394.2,92.4 L394.5,92.3 L394.8,92.1 L395,92.4 L395.3,92 L395.5,92.7 L395.8,92.7 L396.1,92.6 L396.3,92.1 L396.6,91.8 L396.8,92.2 L397.1,92 L397.3,92.5 L397.6,91.9 L397.9,92.1 L398.1,92.4 L398.4,92.5 L398.6,92.4 L398.9,92 L399.2,92.2 L399.4,93.1 L399.7,92.7 L399.9,92.1 L400.2,93 L400.5,92.4 L400.7,92.4 L401,92.1 L401.2,92.9 L401.5,92.5 L401.7,92.4 L402,92.1 L402.3,92 L402.5,92.5 L402.8,92.4 L403,92.9 L403.3,92.1 L403.6,92.3 L403.8,92.8 L404.1,92.7 L404.3,92.2 L404.6,92.9 L404.9,92.6 L405.1,92.8 L405.4,92.6 L405.6,92.8 L405.9,92.3 L406.1,92.4 L406.4,92.8 L406.7,92.6 L406.9,92.6 L407.2,92.9 L407.4,92.6 L407.7,92.6 L408,91.8 L408.2,92.4 L408.5,92.8 L408.7,92.2 L409,92.4 L409.2,92.6 L409.5,92.5 L409.8,92.8 L410,92.7 L410.3,92.5 L410.5,92.9 L410.8,92.5 L411.1,92.4 L411.3,92.7 L411.6,92.8 L411.8,92.6 L412.1,92.3 L412.4,92.5 L412.6,92.7 L412.9,92.9 L413.1,93.2 L413.4,92.6 L413.6,92.6 L413.9,92 L414.2,93.1 L414.4,93 L414.7,92.7 L414.9,92.5 L415.2,91.8 L415.5,92.9 L415.7,92.4 L416,93.2 L416.2,93 L416.5,93.2 L416.8,92.7 L417,93.1 L417.3,92.3 L417.5,93.2 L417.8,92.8 L418,92.4 L418.3,92.6 L418.6,92.5 L418.8,92.9 L419.1,92.6 L419.3,92.4 L419.6,92.7 L419.9,92.7 L420.1,92.9 L420.4,93.1 L420.6,93.3 L420.9,93 L421.2,93.4 L421.4,92 L421.7,92.8 L421.9,93.2 L422.2,92.5 L422.4,92.8 L422.7,93 L423,92.4 L423.2,92.7 L423.5,93.1 L423.7,92.8 L424,93.4 L424.3,93.7 L424.5,92.9 L424.8,92.6 L425,92.9 L425.3,92.8 L425.5,92.5 L425.8,92.8 L426.1,92.8 L426.3,92.9 L426.6,93.3 L426.8,93.4 L427.1,93.1 L427.4,92.9 L427.6,93.2 L427.9,93 L428.1,93.1 L428.4,92.7 L428.7,92 L428.9,93.3 L429.2,92.9 L429.4,92.9 L429.7,93.1 L429.9,93.1 L430.2,93 L430.5,93.6 L430.7,93.1 L431,93.2 L431.2,92.8 L431.5,93.1 L431.8,93.3 L432,93.1 L432.3,93.2 L432.5,92.8 L432.8,93.3 L433.1,92.8 L433.3,93 L433.6,92.9 L433.8,93.2 L434.1,93.5 L434.3,93.3 L434.6,92.9 L434.9,93.2 L435.1,93.5 L435.4,93.4 L435.6,93.4 L435.9,92.8 L436.2,93 L436.4,93 L436.7,93.1 L436.9,93.3 L437.2,93.2 L437.4,93.1 L437.7,93.4 L438,93 L438.2,93.1 L438.5,93.3 L438.7,92.8 L439,93 L439.3,92.8 L439.5,92.9 L439.8,93.2 L440,93.2 L440.3,93.4 L440.6,93.4 L440.8,92.9 L441.1,93.9 L441.3,93.7 L441.6,92.9 L441.8,93.1 L442.1,93.1 L442.4,93.3 L442.6,93.5 L442.9,93.3 L443.1,92.4 L443.4,94.2" fill="none" stroke="#6cb85c" stroke-width="1.8"/>
<line x1="377.8" y1="64.8" x2="396.3" y2="64.8" stroke="#6cb85c" stroke-width="1.3"/>
<text x="400.5" y="68.1" font-size="9.0" text-anchor="start" fill="#000">BFT/BTA</text>
<path d="M262.3,120.3 L262.6,120.3 L262.8,119.8 L263.1,120.1 L263.3,120.3 L263.6,119.9 L263.9,120.4 L264.1,120.1 L264.4,120.6 L264.6,120.1 L264.9,120.6 L265.1,119.6 L265.4,120.6 L265.7,120.2 L265.9,120 L266.2,120.5 L266.4,120 L266.7,120.4 L267,120.4 L267.2,120.5 L267.5,120.9 L267.7,120.6 L268,121 L268.3,120.4 L268.5,120.2 L268.8,120.3 L269,120.2 L269.3,119.8 L269.5,120.2 L269.8,119.8 L270.1,120.1 L270.3,120.1 L270.6,120 L270.8,120.2 L271.1,120.8 L271.4,121.1 L271.6,121.8 L271.9,121.8 L272.1,122.2 L272.4,122 L272.6,122.4 L272.9,122.3 L273.2,122.7 L273.4,123.5 L273.7,123.5 L273.9,123.8 L274.2,124 L274.5,124.9 L274.7,124.7 L275,125.4 L275.2,125.3 L275.5,125.9 L275.8,125.5 L276,125.7 L276.3,126.8 L276.5,126.6 L276.8,127 L277,127.4 L277.3,127.5 L277.6,127.5 L277.8,127.1 L278.1,127.4 L278.3,127.8 L278.6,128.2 L278.9,128.3 L279.1,128.4 L279.4,128.1 L279.6,128.5 L279.9,129 L280.2,128.5 L280.4,128.8 L280.7,129.4 L280.9,129.7 L281.2,129.5 L281.4,129.5 L281.7,129.3 L282,129.8 L282.2,129.7 L282.5,130.1 L282.7,130.5 L283,130.5 L283.3,130.9 L283.5,130.3 L283.8,130.4 L284,131.4 L284.3,131.4 L284.5,130.9 L284.8,131.4 L285.1,131.1 L285.3,131.6 L285.6,131.9 L285.8,132.2 L286.1,131.7 L286.4,131.8 L286.6,132.5 L286.9,132.4 L287.1,133.1 L287.4,132.4 L287.7,132.7 L287.9,132.2 L288.2,133.6 L288.4,133.8 L288.7,133.6 L288.9,133.5 L289.2,133.1 L289.5,133.5 L289.7,133.9 L290,134.8 L290.2,134.6 L290.5,134.3 L290.8,134.8 L291,134.9 L291.3,135 L291.5,134.6 L291.8,134.9 L292.1,135.5 L292.3,135.5 L292.6,135.2 L292.8,136.2 L293.1,135.6 L293.3,135.5 L293.6,136.1 L293.9,136.1 L294.1,135.9 L294.4,136.7 L294.6,136.5 L294.9,136.3 L295.2,136.6 L295.4,136.7 L295.7,136.5 L295.9,136.9 L296.2,136.6 L296.5,136.8 L296.7,137.2 L297,136.7 L297.2,137.1 L297.5,137 L297.7,137.7 L298,137.3 L298.3,138.2 L298.5,138.2 L298.8,137.6 L299,138 L299.3,137.9 L299.6,138.1 L299.8,138.5 L300.1,138.8 L300.3,139.2 L300.6,139.2 L300.8,138.3 L301.1,138.6 L301.4,138.8 L301.6,138.9 L301.9,139.1 L302.1,139.4 L302.4,139.1 L302.7,139.2 L302.9,140.3 L303.2,139.8 L303.4,140.4 L303.7,139.6 L304,140.4 L304.2,140.6 L304.5,140.6 L304.7,140 L305,140.5 L305.2,140.2 L305.5,140.2 L305.8,140.6 L306,140.9 L306.3,140.8 L306.5,140.9 L306.8,141.3 L307.1,140.9 L307.3,141.4 L307.6,141.6 L307.8,141.7 L308.1,141.8 L308.4,141.3 L308.6,141.7 L308.9,141.7 L309.1,142.2 L309.4,141.5 L309.6,142.2 L309.9,141.8 L310.2,142.6 L310.4,142.3 L310.7,142.5 L310.9,142.9 L311.2,143.1 L311.5,142.3 L311.7,142.6 L312,142 L312.2,142.6 L312.5,142.4 L312.7,142.9 L313,142.7 L313.3,142.8 L313.5,142.4 L313.8,142.7 L314,142.4 L314.3,142.8 L314.6,142.3 L314.8,142.9 L315.1,143.2 L315.3,143.7 L315.6,143.4 L315.9,143.4 L316.1,143.2 L316.4,143.5 L316.6,143 L316.9,143.1 L317.1,142.4 L317.4,142.9 L317.7,143.5 L317.9,142.5 L318.2,143.2 L318.4,143.1 L318.7,143 L319,143.3 L319.2,143.2 L319.5,142.8 L319.7,143.2 L320,142.6 L320.3,143.7 L320.5,143.2 L320.8,143.5 L321,142.9 L321.3,143.8 L321.5,143.5 L321.8,143.3 L322.1,143.3 L322.3,143.3 L322.6,143 L322.8,143.2 L323.1,143.1 L323.4,143.3 L323.6,143.7 L323.9,143.6 L324.1,143.3 L324.4,143.4 L324.7,143.1 L324.9,143 L325.2,142.7 L325.4,142.8 L325.7,142.8 L325.9,143.2 L326.2,143.1 L326.5,143.3 L326.7,143.6 L327,143.4 L327.2,143.1 L327.5,143 L327.8,143.1 L328,143.4 L328.3,142.9 L328.5,142.7 L328.8,143.1 L329,143.5 L329.3,143.6 L329.6,143.4 L329.8,142.6 L330.1,143.1 L330.3,143.4 L330.6,143.5 L330.9,143.8 L331.1,142.9 L331.4,143.3 L331.6,142.7 L331.9,143.1 L332.2,143.1 L332.4,143.5 L332.7,143.2 L332.9,142.6 L333.2,143.1 L333.4,143.3 L333.7,143.7 L334,143 L334.2,142.9 L334.5,143 L334.7,143.5 L335,143.1 L335.3,143.2 L335.5,143.3 L335.8,142.9 L336,143.5 L336.3,142.7 L336.6,143.8 L336.8,143 L337.1,142.9 L337.3,142.9 L337.6,142.8 L337.8,142.9 L338.1,142.9 L338.4,142.8 L338.6,143.1 L338.9,143.3 L339.1,143 L339.4,143.2 L339.7,142.9 L339.9,143.2 L340.2,143.1 L340.4,142.8 L340.7,143.2 L340.9,143.1 L341.2,142.9 L341.5,143.1 L341.7,143.3 L342,142.8 L342.2,143 L342.5,143.4 L342.8,143.2 L343,143.4 L343.3,143.9 L343.5,142.7 L343.8,143.3 L344.1,143 L344.3,143.6 L344.6,143.3 L344.8,142.7 L345.1,143.5 L345.3,143.1 L345.6,143 L345.9,143.1 L346.1,143.2 L346.4,142.8 L346.6,143 L346.9,143.6 L347.2,142.8 L347.4,142.9 L347.7,143.4 L347.9,142.8 L348.2,143 L348.5,143.2 L348.7,142.8 L349,143 L349.2,142.8 L349.5,143 L349.7,143.2 L350,143.1 L350.3,143.2 L350.5,143.2 L350.8,143.3 L351,142.7 L351.3,143.1 L351.6,143.6 L351.8,143 L352.1,143 L352.3,143.1 L352.6,142.8 L352.9,143.2 L353.1,143.1 L353.4,143 L353.6,143.3 L353.9,143.4 L354.1,142.6 L354.4,142.9 L354.7,143 L354.9,142.6 L355.2,143.3 L355.4,143.7 L355.7,143.3 L356,143.4 L356.2,142.4 L356.5,142.9 L356.7,142.6 L357,143.3 L357.2,143 L357.5,142.9 L357.8,143.2 L358,143.2 L358.3,143.5 L358.5,143.4 L358.8,143.3 L359.1,142.4 L359.3,143.4 L359.6,143 L359.8,142.5 L360.1,143 L360.4,142.9 L360.6,142.9 L360.9,143.3 L361.1,142.5 L361.4,143.1 L361.6,143.3 L361.9,142.5 L362.2,143.4 L362.4,142.7 L362.7,142.7 L362.9,143.2 L363.2,142.9 L363.5,142.3 L363.7,142.7 L364,143.1 L364.2,142.7 L364.5,142.7 L364.8,142.9 L365,142.8 L365.3,142.6 L365.5,142.5 L365.8,143 L366,143.2 L366.3,142 L366.6,143 L366.8,143.1 L367.1,142.5 L367.3,143.3 L367.6,142.3 L367.9,143.1 L368.1,143.3 L368.4,143.3 L368.6,141.9 L368.9,142.8 L369.1,142.4 L369.4,142.9 L369.7,143.2 L369.9,142.9 L370.2,143.3 L370.4,142.2 L370.7,142.4 L371,142.5 L371.2,142.9 L371.5,143.1 L371.7,142.4 L372,142.4 L372.3,143 L372.5,142.2 L372.8,142.8 L373,142.4 L373.3,142.6 L373.5,143.3 L373.8,142.5 L374.1,142.6 L374.3,142.3 L374.6,142.8 L374.8,143.1 L375.1,142.8 L375.4,142.1 L375.6,142.7 L375.9,143.1 L376.1,142.2 L376.4,142.5 L376.7,142.2 L376.9,142.3 L377.2,142.2 L377.4,142.1 L377.7,142.7 L377.9,142.5 L378.2,141.8 L378.5,142.2 L378.7,142.2 L379,142.1 L379.2,142.5 L379.5,142.4 L379.8,142.6 L380,142 L380.3,142.2 L380.5,142.3 L380.8,142.3 L381,142.3 L381.3,142.2 L381.6,142.4 L381.8,143 L382.1,142.2 L382.3,141.9 L382.6,142.5 L382.9,142.1 L383.1,142.6 L383.4,142.7 L383.6,142.9 L383.9,142.4 L384.2,141.8 L384.4,142.9 L384.7,142.6 L384.9,142.8 L385.2,142.4 L385.4,142.2 L385.7,142.3 L386,141.7 L386.2,142.6 L386.5,142.1 L386.7,142.1 L387,142.4 L387.3,142 L387.5,142.6 L387.8,142.1 L388,143.1 L388.3,142.7 L388.6,142.5 L388.8,142.4 L389.1,142.3 L389.3,142.1 L389.6,141.6 L389.8,142.1 L390.1,142 L390.4,142.1 L390.6,142.3 L390.9,141.6 L391.1,141.8 L391.4,142 L391.7,142.1 L391.9,142.5 L392.2,143.1 L392.4,142.2 L392.7,142.4 L393,142.2 L393.2,142.3 L393.5,142.8 L393.7,142.3 L394,142.4 L394.2,142.2 L394.5,142 L394.8,142.6 L395,142.2 L395.3,142.7 L395.5,141.8 L395.8,142.4 L396.1,142.8 L396.3,142 L396.6,142.3 L396.8,142.7 L397.1,142.3 L397.3,141.9 L397.6,142.1 L397.9,142.3 L398.1,142 L398.4,142.1 L398.6,142.3 L398.9,141.8 L399.2,142.8 L399.4,142 L399.7,142.2 L399.9,142.2 L400.2,142.7 L400.5,142.1 L400.7,142.9 L401,142.8 L401.2,142.5 L401.5,141.8 L401.7,141.8 L402,142.2 L402.3,142.3 L402.5,142.5 L402.8,142.6 L403,142.4 L403.3,142.3 L403.6,142.4 L403.8,141.6 L404.1,142.6 L404.3,141.8 L404.6,141.6 L404.9,142 L405.1,142.1 L405.4,141.9 L405.6,142.2 L405.9,142.3 L406.1,142.5 L406.4,142.4 L406.7,142.1 L406.9,142.3 L407.2,142.7 L407.4,142.2 L407.7,142.3 L408,141.6 L408.2,142.4 L408.5,143 L408.7,142.6 L409,142.3 L409.2,142.8 L409.5,142.8 L409.8,142.8 L410,142 L410.3,142 L410.5,142.6 L410.8,142.6 L411.1,142.5 L411.3,141.9 L411.6,142.7 L411.8,143.1 L412.1,142.8 L412.4,143.3 L412.6,142.6 L412.9,142.5 L413.1,143 L413.4,142.8 L413.6,141.7 L413.9,142 L414.2,142.6 L414.4,142.3 L414.7,143.1 L414.9,143 L415.2,142.9 L415.5,142.4 L415.7,142.4 L416,142.8 L416.2,142.4 L416.5,142.8 L416.8,142.6 L417,142.8 L417.3,142.6 L417.5,142.3 L417.8,141.6 L418,142.1 L418.3,142.1 L418.6,142.8 L418.8,142.1 L419.1,142.4 L419.3,142.8 L419.6,142.8 L419.9,143 L420.1,142.8 L420.4,143.2 L420.6,142.5 L420.9,143 L421.2,142.2 L421.4,142.5 L421.7,142.8 L421.9,142.9 L422.2,142.6 L422.4,142.5 L422.7,142.3 L423,142 L423.2,142.1 L423.5,143.3 L423.7,142.1 L424,142.2 L424.3,142.2 L424.5,142.7 L424.8,142.7 L425,142.6 L425.3,142.3 L425.5,142.7 L425.8,142.3 L426.1,142.9 L426.3,143.3 L426.6,142.5 L426.8,142.9 L427.1,142.6 L427.4,142.7 L427.6,142.4 L427.9,142.9 L428.1,142.8 L428.4,143.3 L428.7,143.6 L428.9,142.5 L429.2,143.2 L429.4,142.6 L429.7,142.7 L429.9,142.5 L430.2,143 L430.5,143.3 L430.7,142.9 L431,143 L431.2,142.6 L431.5,142.8 L431.8,142.5 L432,142.9 L432.3,142.3 L432.5,143.7 L432.8,143.4 L433.1,142.7 L433.3,142.8 L433.6,142.8 L433.8,143 L434.1,143 L434.3,143.6 L434.6,142.8 L434.9,142.3 L435.1,143.1 L435.4,143.1 L435.6,142.7 L435.9,143.3 L436.2,142.9 L436.4,142.7 L436.7,143 L436.9,142.6 L437.2,142.9 L437.4,143.6 L437.7,143.4 L438,143.2 L438.2,143.1 L438.5,143.1 L438.7,142.6 L439,143.1 L439.3,142.8 L439.5,142.8 L439.8,143.6 L440,142.8 L440.3,143.1 L440.6,143.1 L440.8,143.4 L441.1,143 L441.3,143.2 L441.6,143.2 L441.8,143 L442.1,142.9 L442.4,142.7 L442.6,143.4 L442.9,142.8 L443.1,143.5 L443.4,143.6" fill="none" stroke="#f46a32" stroke-width="1.8"/>
<line x1="377.8" y1="113.6" x2="396.3" y2="113.6" stroke="#f46a32" stroke-width="1.3"/>
<text x="400.5" y="116.9" font-size="9.0" text-anchor="start" fill="#000">TFH/BTA</text>
<rect x="262.3" y="3.4" width="181.1" height="146" fill="none" stroke="#262626" stroke-width="1.6"/>
<line x1="262.3" y1="51.4" x2="443.4" y2="51.4" stroke="#262626" stroke-width="1.6"/>
<line x1="262.3" y1="100.1" x2="443.4" y2="100.1" stroke="#262626" stroke-width="1.6"/>
<line x1="262.3" y1="149.4" x2="262.3" y2="152" stroke="#262626" stroke-width="1"/>
<line x1="288.2" y1="149.4" x2="288.2" y2="153.7" stroke="#262626" stroke-width="1"/>
<text x="288.2" y="162.5" font-size="10.2" text-anchor="middle" fill="#000">10</text>
<line x1="314" y1="149.4" x2="314" y2="152" stroke="#262626" stroke-width="1"/>
<line x1="339.9" y1="149.4" x2="339.9" y2="153.7" stroke="#262626" stroke-width="1"/>
<text x="339.9" y="162.5" font-size="10.2" text-anchor="middle" fill="#000">20</text>
<line x1="365.8" y1="149.4" x2="365.8" y2="152" stroke="#262626" stroke-width="1"/>
<line x1="391.7" y1="149.4" x2="391.7" y2="153.7" stroke="#262626" stroke-width="1"/>
<text x="391.7" y="162.5" font-size="10.2" text-anchor="middle" fill="#000">30</text>
<line x1="417.5" y1="149.4" x2="417.5" y2="152" stroke="#262626" stroke-width="1"/>
<line x1="443.4" y1="149.4" x2="443.4" y2="153.7" stroke="#262626" stroke-width="1"/>
<text x="443.4" y="162.5" font-size="10.2" text-anchor="middle" fill="#000">40</text>
<text x="352.9" y="176.7" font-size="11.1" text-anchor="middle" fill="#000">2θ (degree)</text>
<text x="277.5" y="11.8" font-size="8.6" text-anchor="middle" fill="#000">Glass</text>
<text x="253.9" y="74.5" font-size="11.3" text-anchor="middle" fill="#000" transform="rotate(-90 253.9 74.5)">Intensity (arb. units)</text>
<text x="227.8" y="13.4" font-size="18" text-anchor="start" font-weight="bold" fill="#000">b</text>
<g clip-path="url(#cclip)">
<path d="M498,6.5h0M498.1,8.1h0M498.2,6.6h0M498.3,7.5h0M498.4,6.3h0M498.5,7.7h0M498.5,7.6h0M498.6,6.9h0M498.7,6.6h0M498.8,6.5h0M498.9,7.4h0M499,7.1h0M499.1,9.1h0M499.2,8.3h0M499.3,8.3h0M499.4,7.4h0M499.5,8.6h0M499.5,7.2h0M499.6,8.1h0M499.7,9.5h0M499.8,6.5h0M499.9,8h0M500,9.8h0M500.1,9.3h0M500.2,10.7h0M500.3,10.8h0M500.4,9.8h0M500.5,8.8h0M500.5,9.4h0M500.6,9.9h0M500.7,11.3h0M500.8,11.2h0M500.9,10.5h0M501,8.6h0M501.1,10.3h0M501.2,10.7h0M501.3,10h0M501.4,11.4h0M501.5,10.4h0M501.5,11.5h0M501.6,10.1h0M501.7,10.4h0M501.8,10h0M501.9,11.7h0M502,11.5h0M502.1,12.1h0M502.2,10.2h0M502.3,10.5h0M502.4,11.3h0M502.4,12.2h0M502.5,12.9h0M502.6,10.8h0M502.7,13.3h0M502.8,12.7h0M502.9,11.5h0M503,12.6h0M503.1,12.8h0M503.2,12h0M503.3,13.4h0M503.4,11.8h0M503.4,12h0M503.5,14h0M503.6,12.5h0M503.7,13.3h0M503.8,13.6h0M503.9,14.8h0M504,13.8h0M504.1,12.5h0M504.2,13.3h0M504.3,12.7h0M504.4,14.1h0M504.4,14.2h0M504.5,12.3h0M504.6,12.7h0M504.7,15h0M504.8,13.3h0M504.9,13.6h0M505,14.6h0M505.1,14.8h0M505.2,14.6h0M505.3,15.5h0M505.4,14h0M505.4,15.4h0M505.5,14.8h0M505.6,15.9h0M505.7,15.9h0M505.8,16.5h0M505.9,16h0M506,16.6h0M506.1,15.7h0M506.2,16.4h0M506.3,16.3h0M506.4,17.1h0M506.4,13.8h0M506.5,15.3h0M506.6,15.4h0M506.7,16.3h0M506.8,16.6h0M506.9,16.4h0M507,17.3h0M507.1,17.1h0M507.2,15.7h0M507.3,17.3h0M507.4,16h0M507.4,17.9h0M507.5,17h0M507.6,18.6h0M507.7,17.8h0M507.8,17.3h0M507.9,18.5h0M508,19h0M508.1,17.6h0M508.2,17.9h0M508.3,17.9h0M508.4,17.6h0M508.4,18.4h0M508.5,19.1h0M508.6,18.6h0M508.7,18.5h0M508.8,18.2h0M508.9,15.5h0M509,19.1h0M509.1,18.5h0M509.2,17.6h0M509.3,18.3h0M509.4,18.1h0M509.4,18.8h0M509.5,19.1h0M509.6,19.4h0M509.7,21.2h0M509.8,21.6h0M509.9,19.5h0M510,19h0M510.1,18.8h0M510.2,20h0M510.3,18.9h0M510.3,19.4h0M510.4,21.8h0M510.5,20.4h0M510.6,20.6h0M510.7,21h0M510.8,20.9h0M510.9,20.5h0M511,20.9h0M511.1,21h0M511.2,21.4h0M511.3,21.2h0M511.3,21.9h0M511.4,20.9h0M511.5,22h0M511.6,20.5h0M511.7,21.6h0M511.8,21.3h0M511.9,21.5h0M512,22.1h0M512.1,22.4h0M512.2,22.3h0M512.3,21.1h0M512.3,21.3h0M512.4,22.8h0M512.5,22.2h0M512.6,23.6h0M512.7,22.5h0M512.8,22.2h0M512.9,21.6h0M513,21.8h0M513.1,21.4h0M513.2,22.5h0M513.3,23.1h0M513.3,23.5h0M513.4,22.7h0M513.5,22.6h0M513.6,23.3h0M513.7,24h0M513.8,23.3h0M513.9,23.3h0M514,23.7h0M514.1,24.3h0M514.2,24.3h0M514.3,25h0M514.3,25.1h0M514.4,23.6h0M514.5,24.5h0M514.6,24.6h0M514.7,26.2h0M514.8,24.9h0M514.9,25.4h0M515,24.8h0M515.1,24.9h0M515.2,26.6h0M515.3,25.3h0M515.3,25h0M515.4,24.2h0M515.5,24.3h0M515.6,25.3h0M515.7,24.2h0M515.8,25.1h0M515.9,25.6h0M516,24.8h0M516.1,25.6h0M516.2,24.8h0M516.3,24.7h0M516.3,26h0M516.4,24.3h0M516.5,25.7h0M516.6,25.5h0M516.7,26.1h0M516.8,27.4h0M516.9,27h0M517,26.2h0M517.1,26.1h0M517.2,26.2h0M517.2,26.7h0M517.3,27.2h0M517.4,28.8h0M517.5,26.3h0M517.6,26.2h0M517.7,27.6h0M517.8,29.5h0M517.9,27.8h0M518,27.6h0M518.1,28h0M518.2,28h0M518.2,27.2h0M518.3,28.6h0M518.4,26.6h0M518.5,28.5h0M518.6,28.6h0M518.7,27.3h0M518.8,27.6h0M518.9,27.8h0M519,29.7h0M519.1,28.1h0M519.2,29.3h0M519.2,28.5h0M519.3,28.8h0M519.4,30.1h0M519.5,28.6h0M519.6,28.3h0M519.7,28.2h0M519.8,28.8h0M519.9,28.4h0M520,29.9h0M520.1,27.4h0M520.2,30.4h0M520.2,31.4h0M520.3,29.2h0M520.4,29.4h0M520.5,30.1h0M520.6,30.5h0M520.7,30.2h0M520.8,29.7h0M520.9,30.1h0M521,29.7h0M521.1,29.8h0M521.2,30.6h0M521.2,31.5h0M521.3,31h0M521.4,30.4h0M521.5,29.6h0M521.6,29.1h0M521.7,29.9h0M521.8,31.2h0M521.9,29.9h0M522,31.9h0M522.1,32.2h0M522.2,30.1h0M522.2,33.2h0M522.3,30.4h0M522.4,32.2h0M522.5,30.9h0M522.6,31.1h0M522.7,31.9h0M522.8,33.4h0M522.9,33h0M523,30.8h0M523.1,30h0M523.2,33.8h0M523.2,32.3h0M523.3,32.3h0M523.4,34.6h0M523.5,32.4h0M523.6,31h0M523.7,32.5h0M523.8,31.5h0M523.9,31.3h0M524,34.6h0M524.1,31.8h0M524.2,32.3h0M524.2,33.2h0M524.3,34.1h0M524.4,33.6h0M524.5,32.7h0M524.6,33h0M524.7,33.6h0M524.8,33.5h0M524.9,31.6h0M525,32.7h0M525.1,33.3h0M525.1,33.6h0M525.2,33.2h0M525.3,32.9h0M525.4,34.1h0M525.5,35.2h0M525.6,32.8h0M525.7,34.3h0M525.8,36.6h0M525.9,33.5h0M526,34.8h0M526.1,33.8h0M526.1,33.7h0M526.2,34.3h0M526.3,35.9h0M526.4,36.3h0M526.5,35.5h0M526.6,35.2h0M526.7,35h0M526.8,35.2h0M526.9,36h0M527,33.8h0M527.1,35h0M527.1,35.2h0M527.2,35.2h0M527.3,36.1h0M527.4,36.1h0M527.5,36.6h0M527.6,37.1h0M527.7,35.8h0M527.8,36.2h0M527.9,35.1h0M528,37.7h0M528.1,36.2h0M528.1,37.2h0M528.2,38.8h0M528.3,38h0M528.4,37.6h0M528.5,37.3h0M528.6,37.3h0M528.7,36.6h0M528.8,36.6h0M528.9,37h0M529,37.3h0M529.1,37.6h0M529.1,36.9h0M529.2,38.3h0M529.3,38.4h0M529.4,36.4h0M529.5,38.8h0M529.6,38.1h0M529.7,38.1h0M529.8,37.3h0M529.9,38.1h0M530,39.6h0M530.1,38.7h0M530.1,38.8h0M530.2,37.6h0M530.3,37.6h0M530.4,37.7h0M530.5,40.7h0M530.6,39.1h0M530.7,39.4h0M530.8,37.9h0M530.9,39.7h0M531,39.9h0M531.1,38.8h0M531.1,39.6h0M531.2,40.5h0M531.3,39.1h0M531.4,41h0M531.5,39h0M531.6,39.8h0M531.7,39h0M531.8,39.5h0M531.9,40.1h0M532,39.5h0M532.1,41.1h0M532.1,40.4h0M532.2,41h0M532.3,39.2h0M532.4,40h0M532.5,40.4h0M532.6,40.6h0M532.7,41.3h0M532.8,40.5h0M532.9,41.3h0M533,41.7h0M533,40.8h0M533.1,40.6h0M533.2,41.5h0M533.3,41h0M533.4,39.6h0M533.5,41.1h0M533.6,40.9h0M533.7,42h0M533.8,39.8h0M533.9,41.1h0M534,41.9h0M534,41.4h0M534.1,41.7h0M534.2,41.7h0M534.3,41.9h0M534.4,41.9h0M534.5,42.1h0M534.6,42.9h0M534.7,43.5h0M534.8,43.6h0M534.9,43.3h0M535,41.8h0M535,42.2h0M535.1,43.3h0M535.2,43.3h0M535.3,42.3h0M535.4,41.1h0M535.5,43.3h0M535.6,42.9h0M535.7,44.5h0M535.8,43h0M535.9,42.7h0M536,42.6h0M536,43.5h0M536.1,42.2h0M536.2,44.2h0M536.3,45.5h0M536.4,43.2h0M536.5,45.5h0M536.6,45h0M536.7,44.4h0M536.8,45.2h0M536.9,43.7h0M537,45.3h0M537,44.5h0M537.1,44.2h0M537.2,45.9h0M537.3,44.7h0M537.4,43.2h0M537.5,44.9h0M537.6,44.8h0M537.7,44.2h0M537.8,45h0M537.9,45.3h0M538,44.4h0M538,46.4h0M538.1,45.8h0M538.2,45.6h0M538.3,45.7h0M538.4,47.6h0M538.5,44.9h0M538.6,47h0M538.7,46.5h0M538.8,47.9h0M538.9,46.6h0M539,46.1h0M539,46h0M539.1,45.5h0M539.2,48.2h0M539.3,46.4h0M539.4,46.5h0M539.5,46.8h0M539.6,46.3h0M539.7,47.5h0M539.8,49.4h0M539.9,48h0M539.9,46.3h0M540,46.9h0M540.1,48.1h0M540.2,47.1h0M540.3,45.9h0M540.4,48.5h0M540.5,47.3h0M540.6,48.2h0M540.7,50h0M540.8,49h0M540.9,47.3h0M540.9,47.8h0M541,47.5h0M541.1,47.9h0M541.2,47.9h0M541.3,49.4h0M541.4,50.1h0M541.5,49.6h0M541.6,49.7h0M541.7,48.9h0M541.8,49.4h0M541.9,48.7h0M541.9,50.7h0M542,48.5h0M542.1,48.8h0M542.2,48.5h0M542.3,49.1h0M542.4,49.3h0M542.5,48.6h0M542.6,49.4h0M542.7,50.5h0M542.8,50.1h0M542.9,51.8h0M542.9,47.7h0M543,51.1h0M543.1,49h0M543.2,49.7h0M543.3,50.2h0M543.4,49.3h0M543.5,48.1h0M543.6,51.2h0M543.7,51.2h0M543.8,49.1h0M543.9,50.4h0M543.9,50.4h0M544,50.8h0M544.1,49.9h0M544.2,49.3h0M544.3,51.4h0M544.4,51.3h0M544.5,51.4h0M544.6,51.3h0M544.7,50.1h0M544.8,50.3h0M544.9,52.9h0M544.9,50.9h0M545,51h0M545.1,53.2h0M545.2,51.7h0M545.3,50.7h0M545.4,51.6h0M545.5,52.2h0M545.6,51.3h0M545.7,52.7h0M545.8,53.3h0M545.9,52.7h0M545.9,53.9h0M546,52.3h0M546.1,53.1h0M546.2,53h0M546.3,53.2h0M546.4,51.6h0M546.5,52.9h0M546.6,52.3h0M546.7,54.6h0M546.8,54.2h0M546.9,53.2h0M546.9,53.5h0M547,54.8h0M547.1,52.5h0M547.2,54.9h0M547.3,54.2h0M547.4,54h0M547.5,53.8h0M547.6,53.4h0M547.7,53.8h0M547.8,52.8h0M547.8,54.9h0M547.9,54.8h0M548,54.4h0M548.1,54.3h0M548.2,56.8h0M548.3,55.4h0M548.4,53.6h0M548.5,56.3h0M548.6,55.6h0M548.7,55.9h0M548.8,54.6h0M548.8,56.2h0M548.9,55.2h0M549,55.5h0M549.1,56h0M549.2,57h0M549.3,56h0M549.4,54.1h0M549.5,56.2h0M549.6,54h0M549.7,57h0M549.8,57.2h0M549.8,56.3h0M549.9,57.2h0M550,56.1h0M550.1,53.7h0M550.2,56.2h0M550.3,55.9h0M550.4,56.6h0M550.5,55.8h0M550.6,57.3h0M550.7,56.3h0M550.8,56.9h0M550.8,56.2h0M550.9,57.4h0M551,57.5h0M551.1,57.2h0M551.2,56.7h0M551.3,57h0M551.4,55.6h0M551.5,57.1h0M551.6,57.8h0M551.7,59.1h0M551.8,59.6h0M551.8,57.4h0M551.9,57.4h0M552,58.5h0M552.1,58.8h0M552.2,56.2h0M552.3,58.2h0M552.4,57.5h0M552.5,59.1h0M552.6,59.2h0M552.7,58.1h0M552.8,57.3h0M552.8,59h0M552.9,58.2h0M553,58.3h0M553.1,59.8h0M553.2,59.3h0M553.3,57.8h0M553.4,58.3h0M553.5,59h0M553.6,60h0M553.7,60.9h0M553.8,61h0M553.8,60.4h0M553.9,58.9h0M554,59.1h0M554.1,58.8h0M554.2,61.7h0M554.3,58.9h0M554.4,60.8h0M554.5,59.7h0M554.6,61h0M554.7,61.6h0M554.8,61.3h0M554.8,60.1h0M554.9,60.2h0M555,60.8h0M555.1,61.1h0M555.2,61.6h0M555.3,61.3h0M555.4,61.8h0M555.5,59.6h0M555.6,61.2h0M555.7,61.9h0M555.7,60.9h0M555.8,61.1h0M555.9,63.5h0M556,61.2h0M556.1,61.3h0M556.2,63h0M556.3,60.4h0M556.4,61.7h0M556.5,61.3h0M556.6,62.9h0M556.7,62.9h0M556.7,63.4h0M556.8,63.4h0M556.9,63.2h0M557,62.4h0M557.1,63.3h0M557.2,63.2h0M557.3,63.6h0M557.4,62.7h0M557.5,63.2h0M557.6,61.4h0M557.7,65h0M557.7,63.6h0M557.8,61.9h0M557.9,62.4h0M558,61.3h0M558.1,63.7h0M558.2,63.2h0M558.3,62.8h0M558.4,62.9h0M558.5,63.8h0M558.6,64.3h0M558.7,65.6h0M558.7,64.8h0M558.8,63.5h0M558.9,63.3h0M559,64.8h0M559.1,65h0M559.2,66.7h0M559.3,63.1h0M559.4,65h0M559.5,64.2h0M559.6,63.6h0M559.7,63.9h0M559.7,65.2h0M559.8,64.7h0M559.9,65.1h0M560,64.8h0M560.1,64.7h0M560.2,64.7h0M560.3,66.2h0M560.4,64.7h0M560.5,65.6h0M560.6,64.1h0M560.7,64.5h0M560.7,66.1h0M560.8,65.8h0M560.9,65.9h0M561,64.9h0M561.1,65.6h0M561.2,64.2h0M561.3,65.8h0M561.4,65.9h0M561.5,67.3h0M561.6,67.8h0M561.7,67.5h0M561.7,66.6h0M561.8,68.1h0M561.9,67.2h0M562,67.2h0M562.1,67.1h0M562.2,67.9h0M562.3,66.8h0M562.4,66.5h0M562.5,66h0M562.6,65.8h0M562.6,67.4h0M562.7,66.7h0M562.8,67.2h0M562.9,66.9h0M563,67.2h0M563.1,66.7h0M563.2,66h0M563.3,68.3h0M563.4,68.1h0M563.5,68.8h0M563.6,69.3h0M563.6,69.8h0M563.7,67.3h0M563.8,67.1h0M563.9,68.2h0M564,68.8h0M564.1,69.1h0M564.2,70.1h0M564.3,67.3h0M564.4,68.8h0M564.5,67.6h0M564.6,68.3h0M564.6,66.3h0M564.7,69.3h0M564.8,70.2h0M564.9,68.1h0M565,69.4h0M565.1,70.3h0M565.2,69.8h0M565.3,69.3h0M565.4,70.1h0M565.5,71.2h0M565.6,71.5h0M565.6,68.9h0M565.7,70h0M565.8,70.8h0M565.9,72h0M566,69.4h0M566.1,71h0M566.2,70.6h0M566.3,69.2h0M566.4,69.6h0M566.5,70.8h0M566.6,70.9h0M566.6,70h0M566.7,69.7h0M566.8,69.8h0M566.9,70.4h0M567,72.4h0M567.1,71.9h0M567.2,71.5h0M567.3,71.8h0M567.4,72.4h0M567.5,71.1h0M567.6,71.7h0M567.6,71.9h0M567.7,73.6h0M567.8,73.9h0M567.9,71.9h0M568,70.4h0M568.1,71h0M568.2,71.6h0M568.3,72.7h0M568.4,72.5h0M568.5,72.2h0M568.6,72.2h0M568.6,73.4h0M568.7,72.2h0M568.8,75.4h0M568.9,72.5h0M569,74.1h0M569.1,71.7h0M569.2,73.6h0M569.3,72.4h0M569.4,73.6h0M569.5,73.2h0M569.6,75.1h0M569.6,73.5h0M569.7,74.3h0M569.8,73.9h0M569.9,73.6h0M570,73.5h0M570.1,73.9h0M570.2,74.1h0M570.3,74.7h0M570.4,74h0M570.5,71.9h0M570.5,75.1h0M570.6,74.7h0M570.7,75.8h0M570.8,74.1h0M570.9,75.7h0M571,75.3h0M571.1,76.4h0M571.2,74.5h0M571.3,75.1h0M571.4,74.7h0M571.5,75.7h0M571.5,76.5h0M571.6,74.9h0M571.7,75.2h0M571.8,76.2h0M571.9,75.3h0M572,75.5h0M572.1,75.4h0M572.2,77.4h0M572.3,74.3h0M572.4,75.3h0M572.5,76h0M572.5,75.4h0M572.6,75.7h0M572.7,77.6h0M572.8,74.7h0M572.9,76.6h0M573,75.7h0M573.1,77.3h0M573.2,75.3h0M573.3,76.6h0M573.4,77.8h0M573.5,77.9h0M573.5,77.2h0M573.6,77.8h0M573.7,76.4h0M573.8,77.4h0M573.9,77.8h0M574,77h0M574.1,76.6h0M574.2,76h0M574.3,78.6h0M574.4,77.6h0M574.5,76.9h0M574.5,75.7h0M574.6,75.4h0M574.7,78.3h0M574.8,77.2h0M574.9,78.1h0M575,76.3h0M575.1,77.5h0M575.2,77.5h0M575.3,77.4h0M575.4,77.7h0M575.5,78.1h0M575.5,78.4h0M575.6,78.7h0M575.7,78.7h0M575.8,78.8h0M575.9,78.8h0M576,79.3h0M576.1,78.3h0M576.2,79.8h0M576.3,78.7h0M576.4,78.7h0M576.5,80.2h0M576.5,78.6h0M576.6,79.4h0M576.7,79h0M576.8,79.1h0M576.9,78h0M577,81.9h0M577.1,81.8h0M577.2,81.3h0M577.3,79.6h0M577.4,80.2h0M577.5,80h0M577.5,80.4h0M577.6,80.1h0M577.7,81.8h0M577.8,80.4h0M577.9,81.3h0M578,80.5h0M578.1,80.1h0M578.2,81.5h0M578.3,82.2h0M578.4,82.2h0M578.4,80.1h0M578.5,83.5h0M578.6,79.8h0M578.7,79.1h0M578.8,81h0M578.9,82.5h0M579,80.9h0M579.1,85h0M579.2,82.5h0M579.3,81.8h0M579.4,81.6h0M579.4,80.8h0M579.5,83h0M579.6,81.3h0M579.7,82.9h0M579.8,83.9h0M579.9,84.6h0M580,82.1h0M580.1,82.2h0M580.2,82.7h0M580.3,81.6h0M580.4,81.9h0M580.4,83.4h0M580.5,83.9h0M580.6,83.2h0M580.7,83.9h0M580.8,84.2h0M580.9,83.4h0M581,82.2h0M581.1,84.1h0M581.2,84.8h0M581.3,84.4h0M581.4,84.8h0M581.4,83.2h0M581.5,83.2h0M581.6,84.6h0M581.7,85.2h0M581.8,82.5h0M581.9,83.7h0M582,83.2h0M582.1,83h0M582.2,82.7h0M582.3,84.4h0M582.4,84.4h0M582.4,84.8h0M582.5,86.6h0M582.6,84.4h0M582.7,81.8h0M582.8,86.2h0M582.9,85.4h0M583,86h0M583.1,82.9h0M583.2,84.2h0M583.3,81.9h0M583.4,85.4h0M583.4,87.3h0M583.5,85.8h0M583.6,83.5h0M583.7,86.6h0M583.8,84.2h0M583.9,86.6h0M584,85.2h0M584.1,83.9h0M584.2,86.4h0M584.3,87.1h0M584.4,87.8h0M584.4,86h0M584.5,87.5h0M584.6,87.5h0M584.7,88h0M584.8,85.4h0M584.9,85h0M585,86.4h0M585.1,88.5h0M585.2,86.4h0M585.3,88.5h0M585.3,87.5h0M585.4,87.5h0M585.5,88h0M585.6,85.4h0M585.7,86.9h0M585.8,89h0M585.9,86.2h0M586,90.1h0M586.1,87.5h0M586.2,88.5h0M586.3,86.6h0M586.3,86.4h0M586.4,88.5h0M586.5,88h0M586.6,88.5h0M586.7,87.8h0M586.8,85.8h0M586.9,91.7h0M587,87.8h0M587.1,86.4h0M587.2,91.4h0M587.3,89.9h0M587.3,89h0M587.4,90.4h0M587.5,89.3h0M587.6,87.1h0M587.7,87.3h0M587.8,91.7h0M587.9,88h0M588,89h0M588.1,86.9h0M588.2,92.7h0M588.3,89.3h0M588.3,90.7h0M588.4,94.2h0M588.5,89h0M588.6,89.9h0M588.7,90.4h0M588.8,91.4h0M588.9,90.1h0M589,89.9h0M589.1,92.4h0M589.2,92.4h0M589.3,95h0M589.3,89.9h0M589.4,94.2h0M589.5,89.9h0M589.6,89.9h0M589.7,94.2h0M589.8,92h0M589.9,91.7h0M590,93.8h0M590.1,89.9h0M590.2,100.8h0M590.3,111.8h0M590.3,91.4h0M590.4,93.8h0M590.5,95.5h0M590.6,88.5h0M590.7,91.4h0M590.8,98.4h0M590.9,91.4h0M591,91.4h0M591.1,90.1h0M591.2,89.9h0M591.3,92.4h0M591.3,93.4h0M591.4,97.9h0M591.5,89.6h0M591.6,92.7h0M591.7,91.7h0M591.8,94.6h0M591.9,89.3h0M592,92.4h0M592.1,90.1h0M592.2,94.6h0M592.3,91h0M592.3,91.4h0M592.4,93.8h0M592.5,109h0M592.6,91.7h0M592.7,94.2h0M592.8,97.3h0M592.9,95h0M593,98.4h0M593.1,113.5h0M593.2,90.1h0M593.2,92h0M593.3,96.8h0M593.4,93.8h0M593.5,92.7h0M593.6,99h0M593.7,92h0M593.8,120.7h0M593.9,98.4h0M594,97.9h0M594.1,100.2h0M594.2,93.8h0M594.2,90.4h0M594.3,95h0M594.4,102.2h0M594.5,129.5h0M594.6,97.9h0M594.7,91.7h0M594.8,96.4h0M594.9,124.3h0M595,115.5h0M595.1,94.2h0M595.2,117.8h0M595.2,92.7h0M595.3,99.6h0M595.4,98.4h0M595.5,117.8h0M595.6,93.8h0M595.7,100.2h0M595.8,93.1h0M595.9,95h0M596,94.6h0M596.1,93.8h0M596.2,95h0M596.2,93.8h0M596.3,95.9h0M596.4,120.7h0M596.5,101.5h0M596.6,95.9h0M596.7,96.8h0M596.8,95.9h0M596.9,94.6h0M597,95.5h0M597.1,95h0M597.2,97.9h0M597.2,97.3h0M597.3,95.5h0M597.4,95h0M597.5,107.8h0M597.6,97.3h0M597.7,96.4h0M597.8,94.6h0M597.9,97.3h0M598,95.9h0M598.1,100.8h0M598.2,107.8h0M598.2,101.5h0M598.3,99h0M598.4,96.4h0M598.5,100.8h0M598.6,93.4h0M598.7,95.5h0M598.8,99h0M598.9,96.8h0M599,113.5h0M599.1,102.2h0M599.2,120.7h0M599.2,117.8h0M599.3,117.8h0M599.4,100.8h0M599.5,101.5h0M599.6,96.8h0M599.7,96.4h0M599.8,124.3h0M599.9,115.5h0M600,96.4h0M600.1,124.3h0M600.2,99.6h0M600.2,99.6h0M600.3,96.8h0M600.4,96.8h0M600.5,100.2h0M600.6,100.8h0M600.7,115.5h0M600.8,104.7h0M600.9,99h0M601,94.6h0M601.1,106.7h0M601.1,95.9h0M601.2,96.8h0M601.3,97.3h0M601.4,99h0M601.5,97.9h0M601.6,97.3h0M601.7,104.7h0M601.8,102.2h0M601.9,101.5h0M602,100.2h0M602.1,95.5h0M602.1,99h0M602.2,104.7h0M602.3,103h0M602.4,106.7h0M602.5,102.2h0M602.6,109h0M602.7,103h0M602.8,105.7h0M602.9,104.7h0M603,129.5h0M603.1,95.5h0M603.1,124.3h0M603.2,103h0M603.3,113.5h0M603.4,124.3h0M603.5,104.7h0M603.6,95.9h0M603.7,98.4h0M603.8,101.5h0M603.9,105.7h0M604,110.3h0M604.1,104.7h0M604.1,111.8h0M604.2,124.3h0M604.3,96.8h0M604.4,97.9h0M604.5,111.8h0M604.6,124.3h0M604.7,103h0M604.8,99.6h0M604.9,104.7h0M605,111.8h0M605.1,124.3h0M605.1,104.7h0M605.2,101.5h0M605.3,103.8h0M605.4,103.8h0M605.5,105.7h0M605.6,101.5h0M605.7,109h0M605.8,110.3h0M605.9,129.5h0M606,98.4h0M606.1,124.3h0M606.1,115.5h0M606.2,115.5h0M606.3,117.8h0M606.4,111.8h0M606.5,111.8h0M606.6,95.5h0M606.7,129.5h0M606.8,120.7h0M606.9,99h0M607,102.2h0M607.1,115.5h0M607.1,115.5h0M607.2,117.8h0M607.3,102.2h0M607.4,129.5h0M607.5,103.8h0M607.6,115.5h0M607.7,105.7h0M607.8,109h0M607.9,120.7h0M608,106.7h0M608,115.5h0M608.1,129.5h0M608.2,120.7h0M608.3,120.7h0M608.4,104.7h0M608.5,115.5h0M608.6,109h0M608.7,106.7h0M608.8,106.7h0M608.9,105.7h0M609,110.3h0M609,102.2h0M609.1,124.3h0M609.2,115.5h0M609.3,115.5h0M609.4,117.8h0M609.5,111.8h0M609.6,115.5h0M609.7,120.7h0M609.8,107.8h0M609.9,103.8h0M610,102.2h0M610,111.8h0M610.1,101.5h0M610.2,106.7h0M610.3,95.9h0M610.4,124.3h0M610.5,129.5h0M610.6,138.3h0M610.7,101.5h0M610.8,138.3h0M610.9,138.3h0M611,109h0M611,105.7h0M611.1,117.8h0M611.2,124.3h0M611.3,113.5h0M611.4,113.5h0M611.5,113.5h0M611.6,138.3h0M611.7,109h0M611.8,110.3h0M611.9,120.7h0M612,106.7h0M612,124.3h0M612.1,117.8h0M612.2,129.5h0M612.3,115.5h0M612.4,120.7h0M612.5,106.7h0M612.6,104.7h0M612.7,104.7h0M612.8,117.8h0M612.9,120.7h0M613,107.8h0M613,104.7h0M613.1,115.5h0M613.2,103.8h0M613.3,124.3h0M613.4,105.7h0M613.5,117.8h0M613.6,115.5h0M613.7,120.7h0M613.8,117.8h0M613.9,107.8h0M614,101.5h0M614,120.7h0M614.1,106.7h0M614.2,111.8h0M614.3,115.5h0M614.4,109h0M614.5,117.8h0M614.6,111.8h0M614.7,113.5h0M614.8,124.3h0M614.9,103h0M615,110.3h0M615,115.5h0M615.1,115.5h0M615.2,129.5h0M615.3,129.5h0M615.4,124.3h0M615.5,124.3h0M615.6,102.2h0M615.7,103.8h0M615.8,120.7h0M615.9,124.3h0M615.9,104.7h0M616,106.7h0M616.1,129.5h0M616.2,103.8h0M616.3,124.3h0M616.4,102.2h0M616.5,129.5h0M616.6,110.3h0M616.7,117.8h0M616.8,117.8h0M616.9,110.3h0M616.9,138.3h0M617,109h0M617.1,115.5h0M617.2,124.3h0M617.3,124.3h0M617.4,120.7h0M617.5,120.7h0M617.6,124.3h0M617.7,104.7h0M617.8,124.3h0M617.9,117.8h0M617.9,124.3h0M618,115.5h0M618.1,129.5h0M618.2,103.8h0M618.3,124.3h0M618.4,105.7h0M618.5,138.3h0M618.6,111.8h0M618.7,124.3h0M618.8,104.7h0M618.9,138.3h0M618.9,129.5h0M619,111.8h0M619.1,124.3h0M619.2,138.3h0M619.3,107.8h0M619.4,124.3h0M619.5,115.5h0M619.6,124.3h0M619.7,110.3h0M619.8,105.7h0M619.9,113.5h0M619.9,117.8h0M620,105.7h0M620.1,117.8h0M620.2,129.5h0M620.3,110.3h0M620.4,124.3h0M620.5,138.3h0M620.6,129.5h0M620.7,113.5h0M620.8,120.7h0M620.9,109h0M620.9,124.3h0M621,110.3h0M621.1,117.8h0M621.2,129.5h0M621.3,117.8h0M621.4,115.5h0M621.5,111.8h0M621.6,115.5h0M621.7,117.8h0M621.8,117.8h0M621.9,124.3h0M621.9,138.3h0M622,113.5h0M622.1,138.3h0M622.2,124.3h0M622.3,129.5h0M622.4,138.3h0M622.5,111.8h0M622.6,117.8h0M622.7,129.5h0M622.8,124.3h0M622.9,113.5h0M622.9,113.5h0M623,111.8h0M623.1,129.5h0M623.2,129.5h0M623.3,124.3h0M623.4,124.3h0M623.5,117.8h0M623.6,138.3h0M623.7,138.3h0M623.8,129.5h0M623.8,120.7h0M623.9,124.3h0M624,124.3h0M624.1,120.7h0M624.2,120.7h0M624.3,138.3h0M624.4,124.3h0M624.5,138.3h0M624.6,117.8h0M624.7,138.3h0M624.8,115.5h0M624.8,115.5h0M624.9,111.8h0M625,124.3h0M625.1,138.3h0M625.2,115.5h0M625.3,129.5h0M625.4,109h0M625.5,115.5h0M625.6,138.3h0M625.7,113.5h0M625.8,120.7h0M625.8,138.3h0M625.9,138.3h0M626,138.3h0M626.1,117.8h0M626.2,138.3h0M626.3,115.5h0M626.4,117.8h0M626.5,113.5h0M626.6,124.3h0M626.7,120.7h0M626.8,117.8h0M626.8,120.7h0M626.9,138.3h0M627,115.5h0M627.1,124.3h0M627.2,113.5h0M627.3,124.3h0M627.4,115.5h0M627.5,124.3h0M627.6,138.3h0M627.7,124.3h0M627.8,115.5h0M627.8,124.3h0M627.9,113.5h0M628,120.7h0M628.1,129.5h0M628.2,124.3h0M628.3,120.7h0M628.4,124.3h0M628.5,115.5h0M628.6,124.3h0M628.7,124.3h0M628.8,124.3h0M628.8,120.7h0M628.9,138.3h0M629,117.8h0M629.1,124.3h0M629.2,129.5h0M629.3,115.5h0M629.4,124.3h0M629.5,129.5h0M629.6,129.5h0M629.7,120.7h0M629.8,124.3h0M629.8,129.5h0M629.9,129.5h0M630,124.3h0M630.1,113.5h0M630.2,117.8h0M630.3,120.7h0M630.4,129.5h0M630.5,110.3h0M630.6,115.5h0M630.7,138.3h0M630.7,138.3h0M630.8,138.3h0M630.9,124.3h0M631,113.5h0M631.1,124.3h0M631.2,124.3h0M631.3,129.5h0M631.4,111.8h0M631.5,124.3h0M631.6,117.8h0M631.7,124.3h0M631.7,129.5h0M631.8,111.8h0M631.9,113.5h0M632,138.3h0M632.1,138.3h0M632.2,129.5h0M632.3,129.5h0M632.4,113.5h0M632.5,120.7h0M632.6,115.5h0M632.7,129.5h0M632.7,115.5h0M632.8,120.7h0M632.9,138.3h0M633,115.5h0M633.1,124.3h0M633.2,129.5h0M633.3,124.3h0M633.4,120.7h0M633.5,120.7h0M633.6,138.3h0M633.7,120.7h0M633.7,117.8h0M633.8,138.3h0M633.9,120.7h0M634,124.3h0M634.1,115.5h0M634.2,138.3h0M634.3,117.8h0M634.4,124.3h0M634.5,110.3h0M634.6,120.7h0M634.7,129.5h0M634.7,124.3h0M634.8,129.5h0M634.9,117.8h0M635,129.5h0M635.1,129.5h0M635.2,129.5h0M635.3,138.3h0M635.4,124.3h0M635.5,129.5h0M635.6,115.5h0M635.7,124.3h0M635.7,117.8h0M635.8,105.7h0M635.9,117.8h0M636,138.3h0M636.1,117.8h0M636.2,124.3h0M636.3,117.8h0M636.4,138.3h0M636.5,138.3h0M636.6,138.3h0M636.7,138.3h0M636.7,129.5h0M636.8,120.7h0M636.9,117.8h0M637,124.3h0M637.1,115.5h0M637.2,120.7h0M637.3,124.3h0M637.4,117.8h0M637.5,120.7h0M637.6,117.8h0M637.7,138.3h0M637.7,115.5h0M637.8,120.7h0M637.9,120.7h0M638,115.5h0M638.1,117.8h0M638.2,115.5h0M638.3,109h0M638.4,124.3h0M638.5,138.3h0M638.6,117.8h0M638.6,120.7h0M638.7,117.8h0M638.8,138.3h0M638.9,120.7h0M639,129.5h0M639.1,138.3h0M639.2,129.5h0M639.3,138.3h0M639.4,129.5h0M639.5,124.3h0M639.6,117.8h0M639.6,115.5h0M639.7,120.7h0M639.8,129.5h0M639.9,115.5h0M640,138.3h0M640.1,138.3h0M640.2,124.3h0M640.3,138.3h0M640.4,115.5h0M640.5,117.8h0M640.6,115.5h0M640.6,129.5h0M640.7,115.5h0M640.8,129.5h0M640.9,124.3h0M641,124.3h0M641.1,124.3h0M641.2,124.3h0M641.3,124.3h0M641.4,138.3h0M641.5,120.7h0M641.6,129.5h0M641.6,129.5h0M641.7,120.7h0M641.8,120.7h0M641.9,120.7h0M642,138.3h0M642.1,124.3h0M642.2,129.5h0M642.3,129.5h0M642.4,115.5h0M642.5,124.3h0M642.6,138.3h0M642.6,129.5h0M642.7,138.3h0M642.8,110.3h0M642.9,115.5h0M643,138.3h0M643.1,115.5h0M643.2,117.8h0M643.3,111.8h0M643.4,129.5h0M643.5,138.3h0M643.6,124.3h0M643.6,129.5h0M643.7,138.3h0M643.8,115.5h0M643.9,115.5h0M644,124.3h0M644.1,129.5h0M644.2,117.8h0M644.3,129.5h0M644.4,124.3h0M644.5,120.7h0M644.6,129.5h0M644.6,117.8h0M644.7,124.3h0M644.8,111.8h0M644.9,138.3h0M645,129.5h0M645.1,120.7h0M645.2,117.8h0M645.3,129.5h0M645.4,115.5h0M645.5,113.5h0M645.6,117.8h0M645.6,117.8h0M645.7,129.5h0M645.8,129.5h0M645.9,138.3h0M646,115.5h0M646.1,138.3h0M646.2,138.3h0M646.3,124.3h0M646.4,124.3h0M646.5,138.3h0M646.5,124.3h0M646.6,124.3h0M646.7,115.5h0M646.8,120.7h0M646.9,129.5h0M647,129.5h0M647.1,115.5h0M647.2,124.3h0M647.3,124.3h0M647.4,117.8h0M647.5,129.5h0M647.5,138.3h0M647.6,129.5h0M647.7,120.7h0M647.8,117.8h0M647.9,120.7h0M648,129.5h0M648.1,120.7h0M648.2,115.5h0M648.3,138.3h0M648.4,124.3h0M648.5,124.3h0M648.5,129.5h0M648.6,115.5h0M648.7,138.3h0M648.8,124.3h0M648.9,138.3h0M649,129.5h0M649.1,120.7h0M649.2,138.3h0M649.3,129.5h0M649.4,115.5h0M649.5,124.3h0M649.5,124.3h0M649.6,120.7h0M649.7,115.5h0M649.8,111.8h0M649.9,129.5h0M650,115.5h0M650.1,138.3h0M650.2,129.5h0M650.3,138.3h0M650.4,124.3h0M650.5,124.3h0M650.5,124.3h0M650.6,115.5h0M650.7,115.5h0M650.8,115.5h0M650.9,120.7h0M651,129.5h0M651.1,120.7h0M651.2,129.5h0M651.3,138.3h0M651.4,129.5h0M651.5,117.8h0M651.5,129.5h0M651.6,138.3h0M651.7,124.3h0M651.8,124.3h0M651.9,124.3h0M652,120.7h0M652.1,124.3h0M652.2,129.5h0M652.3,129.5h0M652.4,115.5h0M652.5,138.3h0M652.5,120.7h0M652.6,124.3h0M652.7,117.8h0M652.8,138.3h0M652.9,115.5h0M653,124.3h0M653.1,129.5h0M653.2,129.5h0M653.3,115.5h0M653.4,129.5h0M653.4,124.3h0M653.5,120.7h0M653.6,138.3h0M653.7,117.8h0M653.8,115.5h0M653.9,120.7h0M654,115.5h0M654.1,115.5h0M654.2,129.5h0M654.3,129.5h0M654.4,129.5h0M654.4,138.3h0M654.5,115.5h0M654.6,138.3h0M654.7,138.3h0M654.8,117.8h0M654.9,129.5h0M655,124.3h0M655.1,120.7h0M655.2,117.8h0M655.3,115.5h0M655.4,115.5h0M655.4,124.3h0M655.5,124.3h0M655.6,124.3h0M655.7,138.3h0M655.8,115.5h0M655.9,138.3h0M656,124.3h0M656.1,138.3h0M656.2,124.3h0M656.3,115.5h0M656.4,115.5h0M656.4,115.5h0M656.5,124.3h0M656.6,117.8h0M656.7,138.3h0M656.8,115.5h0M656.9,117.8h0M657,138.3h0M657.1,124.3h0M657.2,129.5h0M657.3,129.5h0M657.4,124.3h0M657.4,117.8h0M657.5,120.7h0M657.6,115.5h0M657.7,120.7h0M657.8,138.3h0M657.9,124.3h0M658,138.3h0M658.1,138.3h0M658.2,129.5h0M658.3,124.3h0M658.4,129.5h0M658.4,124.3h0M658.5,138.3h0M658.6,113.5h0M658.7,117.8h0M658.8,124.3h0M658.9,113.5h0M659,124.3h0M659.1,124.3h0M659.2,117.8h0M659.3,129.5h0M659.4,124.3h0M659.4,129.5h0M659.5,120.7h0M659.6,138.3h0M659.7,115.5h0M659.8,124.3h0M659.9,120.7h0M660,120.7h0M660.1,138.3h0M660.2,138.3h0M660.3,124.3h0M660.4,138.3h0M660.4,120.7h0M660.5,115.5h0M660.6,115.5h0M660.7,138.3h0M660.8,124.3h0M660.9,117.8h0M661,129.5h0M661.1,124.3h0M661.2,129.5h0M661.3,129.5h0M661.3,117.8h0M661.4,138.3h0M661.5,138.3h0M661.6,124.3h0M661.7,129.5h0M661.8,129.5h0M661.9,129.5h0M662,124.3h0M662.1,124.3h0M662.2,138.3h0M662.3,129.5h0M662.3,129.5h0M662.4,115.5h0M662.5,129.5h0M662.6,129.5h0M662.7,124.3h0M662.8,138.3h0M662.9,138.3h0M663,138.3h0M663.1,115.5h0M663.2,124.3h0M663.3,129.5h0M663.3,124.3h0M663.4,129.5h0M663.5,138.3h0M663.6,129.5h0M663.7,124.3h0M663.8,117.8h0M663.9,138.3h0M664,138.3h0M664.1,129.5h0M664.2,138.3h0M664.3,117.8h0M664.3,129.5h0M664.4,138.3h0M664.5,124.3h0M664.6,138.3h0M664.7,129.5h0M664.8,124.3h0M664.9,117.8h0M665,120.7h0M665.1,138.3h0M665.2,120.7h0M665.3,138.3h0M665.3,115.5h0M665.4,138.3h0M665.5,124.3h0M665.6,129.5h0M665.7,117.8h0M665.8,120.7h0M665.9,117.8h0M666,129.5h0M666.1,129.5h0M666.2,138.3h0M666.3,115.5h0M666.3,129.5h0M666.4,115.5h0M666.5,129.5h0M666.6,124.3h0M666.7,129.5h0M666.8,117.8h0M666.9,129.5h0M667,138.3h0M667.1,115.5h0M667.2,138.3h0M667.3,124.3h0M667.3,124.3h0M667.4,129.5h0M667.5,124.3h0M667.6,124.3h0M667.7,124.3h0M667.8,138.3h0M667.9,117.8h0M668,120.7h0M668.1,129.5h0M668.2,115.5h0M668.3,129.5h0M668.3,120.7h0M668.4,117.8h0M668.5,129.5h0M668.6,138.3h0M668.7,120.7h0M668.8,129.5h0M668.9,124.3h0M669,124.3h0M669.1,138.3h0M669.2,124.3h0M669.2,129.5h0M669.3,124.3h0M669.4,129.5h0M669.5,115.5h0M669.6,129.5h0M669.7,129.5h0M669.8,129.5h0M669.9,129.5h0M670,129.5h0M670.1,129.5h0M670.2,124.3h0M670.2,117.8h0M670.3,124.3h0M670.4,117.8h0M670.5,120.7h0M670.6,115.5h0M670.7,120.7h0M670.8,115.5h0M670.9,120.7h0M671,120.7h0M671.1,129.5h0M671.2,138.3h0M671.2,117.8h0M671.3,124.3h0M671.4,129.5h0M671.5,129.5h0M671.6,115.5h0M671.7,120.7h0M671.8,129.5h0M671.9,124.3h0M672,138.3h0M672.1,124.3h0M672.2,138.3h0M672.2,124.3h0M672.3,129.5h0M672.4,124.3h0M672.5,115.5h0M672.6,117.8h0M672.7,124.3h0M672.8,138.3h0M672.9,138.3h0M673,129.5h0M673.1,124.3h0M673.2,124.3h0M673.2,129.5h0M673.3,124.3h0M673.4,138.3h0M673.5,138.3h0M673.6,117.8h0M673.7,129.5h0M673.8,138.3h0M673.9,115.5h0M674,117.8h0M674.1,129.5h0M674.2,124.3h0M674.2,129.5h0M674.3,129.5h0M674.4,120.7h0M674.5,124.3h0M674.6,115.5h0M674.7,138.3h0M674.8,124.3h0M674.9,138.3h0M675,124.3h0M675.1,138.3h0M675.2,120.7h0M675.2,117.8h0M675.3,124.3h0M675.4,124.3h0M675.5,138.3h0M675.6,117.8h0M675.7,138.3h0M675.8,129.5h0M675.9,138.3h0M676,117.8h0M676.1,124.3h0M676.1,124.3h0M676.2,138.3h0M676.3,129.5h0M676.4,138.3h0M676.5,129.5h0M676.6,117.8h0M676.7,124.3h0M676.8,117.8h0M676.9,115.5h0M677,138.3h0M677.1,117.8h0M677.1,138.3h0M677.2,117.8h0M677.3,124.3h0M677.4,138.3h0M677.5,120.7h0M677.6,138.3h0M677.7,117.8h0M677.8,129.5h0M677.9,129.5h0M678,117.8h0M678.1,138.3h0M678.1,138.3h0M678.2,124.3h0M678.3,115.5h0M678.4,138.3h0M678.5,115.5h0M678.6,115.5h0M678.7,124.3h0M678.8,115.5h0M678.9,138.3h0M679,117.8h0M679.1,120.7h0M679.1,120.7h0M679.2,124.3h0M679.3,129.5h0M679.4,138.3h0M679.5,129.5h0" fill="none" stroke="#f46a32" stroke-opacity="0.8" stroke-width="3.3" stroke-linecap="round"/>
<path d="M498,24.1h0M498.1,25.7h0M498.2,25h0M498.3,24.4h0M498.4,25.5h0M498.5,25.1h0M498.5,25.5h0M498.6,23.4h0M498.7,25.5h0M498.8,24.6h0M498.9,24.6h0M499,26.4h0M499.1,24h0M499.2,25h0M499.3,26.1h0M499.4,24.6h0M499.5,25h0M499.5,23.5h0M499.6,25.4h0M499.7,24.9h0M499.8,24.9h0M499.9,25.2h0M500,23.8h0M500.1,24.9h0M500.2,24.9h0M500.3,24.7h0M500.4,24.8h0M500.5,24.1h0M500.5,23.8h0M500.6,25h0M500.7,23.5h0M500.8,24.7h0M500.9,24h0M501,24.6h0M501.1,24.8h0M501.2,24.1h0M501.3,26h0M501.4,23.8h0M501.5,23.2h0M501.5,25h0M501.6,23.5h0M501.7,24.8h0M501.8,23.6h0M501.9,24.2h0M502,26.3h0M502.1,24.3h0M502.2,24h0M502.3,23.8h0M502.4,24.8h0M502.4,22.6h0M502.5,24.2h0M502.6,25.8h0M502.7,24.8h0M502.8,26.3h0M502.9,24.7h0M503,24.9h0M503.1,25.5h0M503.2,23.6h0M503.3,24.3h0M503.4,24.4h0M503.4,24h0M503.5,24.8h0M503.6,24.7h0M503.7,26.2h0M503.8,25.8h0M503.9,25h0M504,25h0M504.1,26.2h0M504.2,26.2h0M504.3,26.8h0M504.4,28.3h0M504.4,27.5h0M504.5,28.7h0M504.6,29.4h0M504.7,28.2h0M504.8,29.5h0M504.9,28h0M505,29.4h0M505.1,30.7h0M505.2,29.2h0M505.3,30.5h0M505.4,31h0M505.4,30.1h0M505.5,31.8h0M505.6,33.1h0M505.7,33.1h0M505.8,31.6h0M505.9,33.3h0M506,35h0M506.1,35.4h0M506.2,33.7h0M506.3,33.8h0M506.4,32.9h0M506.4,34.8h0M506.5,35.5h0M506.6,36.2h0M506.7,34.7h0M506.8,34.8h0M506.9,34.3h0M507,37.4h0M507.1,38h0M507.2,37.8h0M507.3,37h0M507.4,38.2h0M507.4,36.5h0M507.5,36h0M507.6,39.6h0M507.7,37.1h0M507.8,37.1h0M507.9,39.6h0M508,39.1h0M508.1,38.6h0M508.2,38.8h0M508.3,37.7h0M508.4,40.1h0M508.4,41.1h0M508.5,40.9h0M508.6,39.8h0M508.7,41.4h0M508.8,41.6h0M508.9,42.3h0M509,41.9h0M509.1,42.3h0M509.2,44.1h0M509.3,42.4h0M509.4,44.2h0M509.4,42.2h0M509.5,42.5h0M509.6,43.6h0M509.7,43.9h0M509.8,44.8h0M509.9,42.9h0M510,45h0M510.1,44.6h0M510.2,45.5h0M510.3,45h0M510.3,44.7h0M510.4,45h0M510.5,45.4h0M510.6,45.7h0M510.7,45.8h0M510.8,47.2h0M510.9,44.5h0M511,45.9h0M511.1,46.1h0M511.2,47.8h0M511.3,47.4h0M511.3,46.8h0M511.4,49h0M511.5,47.8h0M511.6,47.7h0M511.7,49.7h0M511.8,48.2h0M511.9,49h0M512,49.7h0M512.1,48.9h0M512.2,50h0M512.3,48.2h0M512.3,50.6h0M512.4,50.4h0M512.5,49.4h0M512.6,50.5h0M512.7,50.4h0M512.8,49.4h0M512.9,49.7h0M513,51.3h0M513.1,50.8h0M513.2,50.2h0M513.3,51.6h0M513.3,51.3h0M513.4,51.3h0M513.5,51.7h0M513.6,51.3h0M513.7,53.5h0M513.8,52.7h0M513.9,52.6h0M514,53.6h0M514.1,53.5h0M514.2,52.7h0M514.3,52.6h0M514.3,53.4h0M514.4,54.2h0M514.5,53.5h0M514.6,53.5h0M514.7,53.6h0M514.8,53.8h0M514.9,53.2h0M515,55.8h0M515.1,55h0M515.2,55.1h0M515.3,54.9h0M515.3,55.1h0M515.4,55.3h0M515.5,55.6h0M515.6,54h0M515.7,55.6h0M515.8,56.1h0M515.9,55.3h0M516,54.4h0M516.1,57.2h0M516.2,56.3h0M516.3,57.1h0M516.3,56.6h0M516.4,55.4h0M516.5,55.8h0M516.6,56.3h0M516.7,57.1h0M516.8,58.3h0M516.9,57.6h0M517,58.4h0M517.1,58.5h0M517.2,57.6h0M517.2,57.8h0M517.3,57.6h0M517.4,57.2h0M517.5,59.6h0M517.6,57.7h0M517.7,60.6h0M517.8,58.9h0M517.9,58.2h0M518,58.9h0M518.1,60.7h0M518.2,60.4h0M518.2,59.6h0M518.3,59.6h0M518.4,61.3h0M518.5,58h0M518.6,61.3h0M518.7,61.2h0M518.8,59.3h0M518.9,59.8h0M519,59.3h0M519.1,59.1h0M519.2,58.8h0M519.2,62h0M519.3,60.8h0M519.4,62.1h0M519.5,61.5h0M519.6,61.3h0M519.7,61.7h0M519.8,61.1h0M519.9,63.2h0M520,61.1h0M520.1,62.7h0M520.2,61.9h0M520.2,61.3h0M520.3,61.7h0M520.4,61.1h0M520.5,64h0M520.6,62.6h0M520.7,61.6h0M520.8,62.8h0M520.9,62.5h0M521,64.2h0M521.1,62.7h0M521.2,64.4h0M521.2,63.4h0M521.3,65.1h0M521.4,64.5h0M521.5,63.7h0M521.6,65.1h0M521.7,63.8h0M521.8,64.4h0M521.9,63.5h0M522,64.3h0M522.1,64.5h0M522.2,65.1h0M522.2,64.7h0M522.3,64.5h0M522.4,66.3h0M522.5,66h0M522.6,65h0M522.7,64.5h0M522.8,66.5h0M522.9,64.9h0M523,67.3h0M523.1,66.2h0M523.2,65.6h0M523.2,66.7h0M523.3,67.3h0M523.4,65.6h0M523.5,66.6h0M523.6,66.6h0M523.7,66.9h0M523.8,66.9h0M523.9,66.7h0M524,65.7h0M524.1,66.5h0M524.2,67.1h0M524.2,66.2h0M524.3,67.9h0M524.4,67.6h0M524.5,66.7h0M524.6,67h0M524.7,68.9h0M524.8,68.2h0M524.9,68h0M525,69.1h0M525.1,66.3h0M525.1,69.6h0M525.2,69.8h0M525.3,68.6h0M525.4,68h0M525.5,70.6h0M525.6,69.6h0M525.7,68.6h0M525.8,70.6h0M525.9,68.5h0M526,68.8h0M526.1,70.4h0M526.1,67.9h0M526.2,69.7h0M526.3,70.6h0M526.4,71.1h0M526.5,69.6h0M526.6,70.6h0M526.7,70.1h0M526.8,70.7h0M526.9,70.8h0M527,70.5h0M527.1,72.2h0M527.1,71.8h0M527.2,70.6h0M527.3,71.8h0M527.4,72.4h0M527.5,71.7h0M527.6,70.6h0M527.7,71.9h0M527.8,71.7h0M527.9,71.7h0M528,72.3h0M528.1,71.8h0M528.1,71.6h0M528.2,72h0M528.3,71.2h0M528.4,71.9h0M528.5,72.1h0M528.6,71.7h0M528.7,71.8h0M528.8,73.5h0M528.9,73h0M529,75.8h0M529.1,74.5h0M529.1,75h0M529.2,73.1h0M529.3,72.7h0M529.4,74h0M529.5,76.3h0M529.6,74.5h0M529.7,75h0M529.8,72.9h0M529.9,72.7h0M530,74.9h0M530.1,73.2h0M530.1,73.6h0M530.2,73.7h0M530.3,75.1h0M530.4,73.5h0M530.5,73.7h0M530.6,74.3h0M530.7,74.7h0M530.8,75.7h0M530.9,77.1h0M531,72.9h0M531.1,74.9h0M531.1,75.6h0M531.2,73.9h0M531.3,76.1h0M531.4,75.2h0M531.5,75.1h0M531.6,74.5h0M531.7,76.7h0M531.8,76.5h0M531.9,76.1h0M532,75.9h0M532.1,77.7h0M532.1,76.5h0M532.2,77.5h0M532.3,76.1h0M532.4,79h0M532.5,76.6h0M532.6,77.8h0M532.7,75.9h0M532.8,76.1h0M532.9,76.8h0M533,77.2h0M533,78.3h0M533.1,77.9h0M533.2,76h0M533.3,76.6h0M533.4,76.4h0M533.5,78.8h0M533.6,78.3h0M533.7,79.3h0M533.8,78h0M533.9,76.6h0M534,77.4h0M534,77.5h0M534.1,79.4h0M534.2,78.1h0M534.3,79.4h0M534.4,78.7h0M534.5,79.1h0M534.6,78.7h0M534.7,79.2h0M534.8,78.6h0M534.9,79.8h0M535,80.6h0M535,79h0M535.1,78.8h0M535.2,79.4h0M535.3,79.3h0M535.4,80.5h0M535.5,78h0M535.6,80.4h0M535.7,78.8h0M535.8,81.6h0M535.9,80.4h0M536,79.8h0M536,79.4h0M536.1,78.4h0M536.2,81h0M536.3,81.5h0M536.4,79h0M536.5,81.2h0M536.6,81.6h0M536.7,80.4h0M536.8,78.7h0M536.9,80.2h0M537,78.8h0M537,81.9h0M537.1,79.1h0M537.2,80.8h0M537.3,82.5h0M537.4,82.4h0M537.5,80.8h0M537.6,80.4h0M537.7,83.7h0M537.8,83.2h0M537.9,85.4h0M538,81.9h0M538,83.2h0M538.1,80.9h0M538.2,80.1h0M538.3,83.2h0M538.4,82.2h0M538.5,86.9h0M538.6,82.7h0M538.7,82.1h0M538.8,82.5h0M538.9,84.1h0M539,83.9h0M539,83.4h0M539.1,83.9h0M539.2,83.9h0M539.3,85h0M539.4,86.6h0M539.5,85.2h0M539.6,84.8h0M539.7,84.8h0M539.8,81.5h0M539.9,83.2h0M539.9,84.4h0M540,85.4h0M540.1,85h0M540.2,86h0M540.3,84.8h0M540.4,83.4h0M540.5,85.8h0M540.6,84.6h0M540.7,85.4h0M540.8,85.8h0M540.9,87.3h0M540.9,84.8h0M541,86.2h0M541.1,83.7h0M541.2,82.9h0M541.3,85.8h0M541.4,86.2h0M541.5,85.4h0M541.6,86.6h0M541.7,89h0M541.8,86.9h0M541.9,84.2h0M541.9,89.6h0M542,84.4h0M542.1,85.8h0M542.2,87.8h0M542.3,87.8h0M542.4,84.4h0M542.5,86.2h0M542.6,88.3h0M542.7,87.1h0M542.8,86.9h0M542.9,84.6h0M542.9,85.6h0M543,88h0M543.1,84.6h0M543.2,87.1h0M543.3,88.3h0M543.4,85.2h0M543.5,87.1h0M543.6,91.7h0M543.7,89.6h0M543.8,88.5h0M543.9,90.4h0M543.9,90.1h0M544,89h0M544.1,87.5h0M544.2,86.4h0M544.3,87.5h0M544.4,88h0M544.5,89h0M544.6,92h0M544.7,88.5h0M544.8,89.6h0M544.9,95h0M544.9,90.7h0M545,90.7h0M545.1,91.7h0M545.2,90.7h0M545.3,88h0M545.4,87.8h0M545.5,90.7h0M545.6,89.3h0M545.7,89.3h0M545.8,89.9h0M545.9,91h0M545.9,92h0M546,89.6h0M546.1,92h0M546.2,90.1h0M546.3,89.6h0M546.4,88.8h0M546.5,91.4h0M546.6,90.7h0M546.7,90.7h0M546.8,92h0M546.9,90.1h0M546.9,91h0M547,91.4h0M547.1,93.4h0M547.2,92.4h0M547.3,124.3h0M547.4,89.9h0M547.5,90.7h0M547.6,97.3h0M547.7,94.6h0M547.8,91.4h0M547.8,89h0M547.9,90.7h0M548,92.7h0M548.1,92h0M548.2,91h0M548.3,91h0M548.4,93.4h0M548.5,93.1h0M548.6,93.4h0M548.7,93.8h0M548.8,92.4h0M548.8,92.4h0M548.9,93.1h0M549,94.2h0M549.1,95h0M549.2,88.8h0M549.3,95.9h0M549.4,96.8h0M549.5,90.7h0M549.6,95h0M549.7,92.7h0M549.8,94.6h0M549.8,95h0M549.9,97.3h0M550,93.8h0M550.1,95.9h0M550.2,96.4h0M550.3,93.1h0M550.4,100.2h0M550.5,94.2h0M550.6,109h0M550.7,96.4h0M550.8,95.5h0M550.8,93.4h0M550.9,99.6h0M551,92.4h0M551.1,95.5h0M551.2,93.8h0M551.3,97.3h0M551.4,94.2h0M551.5,96.4h0M551.6,103h0M551.7,106.7h0M551.8,94.6h0M551.8,95h0M551.9,103h0M552,96.8h0M552.1,99h0M552.2,91.7h0M552.3,98.4h0M552.4,99h0M552.5,99.6h0M552.6,96.8h0M552.7,120.7h0M552.8,94.6h0M552.8,93.4h0M552.9,103.8h0M553,99.6h0M553.1,97.9h0M553.2,96.8h0M553.3,105.7h0M553.4,102.2h0M553.5,96.8h0M553.6,93.8h0M553.7,115.5h0M553.8,98.4h0M553.8,96.8h0M553.9,99.6h0M554,100.2h0M554.1,93.4h0M554.2,93.1h0M554.3,100.8h0M554.4,124.3h0M554.5,106.7h0M554.6,101.5h0M554.7,102.2h0M554.8,106.7h0M554.8,105.7h0M554.9,138.3h0M555,96.4h0M555.1,110.3h0M555.2,104.7h0M555.3,103.8h0M555.4,105.7h0M555.5,97.9h0M555.6,103.8h0M555.7,95.9h0M555.7,107.8h0M555.8,98.4h0M555.9,110.3h0M556,111.8h0M556.1,109h0M556.2,96.4h0M556.3,97.3h0M556.4,97.9h0M556.5,129.5h0M556.6,101.5h0M556.7,96.8h0M556.7,117.8h0M556.8,104.7h0M556.9,96.4h0M557,96.4h0M557.1,95.5h0M557.2,120.7h0M557.3,95.9h0M557.4,111.8h0M557.5,97.9h0M557.6,105.7h0M557.7,106.7h0M557.7,109h0M557.8,109h0M557.9,95.9h0M558,109h0M558.1,104.7h0M558.2,109h0M558.3,107.8h0M558.4,103h0M558.5,100.8h0M558.6,97.9h0M558.7,100.2h0M558.7,129.5h0M558.8,124.3h0M558.9,104.7h0M559,101.5h0M559.1,104.7h0M559.2,113.5h0M559.3,105.7h0M559.4,104.7h0M559.5,106.7h0M559.6,102.2h0M559.7,129.5h0M559.7,103h0M559.8,102.2h0M559.9,120.7h0M560,103.8h0M560.1,102.2h0M560.2,101.5h0M560.3,97.3h0M560.4,110.3h0M560.5,113.5h0M560.6,100.2h0M560.7,115.5h0M560.7,102.2h0M560.8,109h0M560.9,124.3h0M561,99.6h0M561.1,101.5h0M561.2,103.8h0M561.3,100.8h0M561.4,111.8h0M561.5,115.5h0M561.6,101.5h0M561.7,101.5h0M561.7,101.5h0M561.8,107.8h0M561.9,124.3h0M562,129.5h0M562.1,129.5h0M562.2,98.4h0M562.3,111.8h0M562.4,100.8h0M562.5,105.7h0M562.6,124.3h0M562.6,110.3h0M562.7,120.7h0M562.8,99h0M562.9,110.3h0M563,109h0M563.1,105.7h0M563.2,129.5h0M563.3,106.7h0M563.4,106.7h0M563.5,99h0M563.6,129.5h0M563.6,107.8h0M563.7,100.2h0M563.8,113.5h0M563.9,111.8h0M564,103.8h0M564.1,124.3h0M564.2,120.7h0M564.3,102.2h0M564.4,129.5h0M564.5,105.7h0M564.6,104.7h0M564.6,103h0M564.7,117.8h0M564.8,111.8h0M564.9,109h0M565,110.3h0M565.1,115.5h0M565.2,138.3h0M565.3,120.7h0M565.4,106.7h0M565.5,124.3h0M565.6,109h0M565.6,115.5h0M565.7,129.5h0M565.8,107.8h0M565.9,117.8h0M566,113.5h0M566.1,117.8h0M566.2,129.5h0M566.3,138.3h0M566.4,129.5h0M566.5,117.8h0M566.6,117.8h0M566.6,105.7h0M566.7,111.8h0M566.8,105.7h0M566.9,124.3h0M567,124.3h0M567.1,129.5h0M567.2,109h0M567.3,113.5h0M567.4,107.8h0M567.5,117.8h0M567.6,115.5h0M567.6,104.7h0M567.7,117.8h0M567.8,117.8h0M567.9,110.3h0M568,113.5h0M568.1,138.3h0M568.2,120.7h0M568.3,109h0M568.4,107.8h0M568.5,124.3h0M568.6,117.8h0M568.6,106.7h0M568.7,107.8h0M568.8,117.8h0M568.9,103.8h0M569,129.5h0M569.1,138.3h0M569.2,109h0M569.3,124.3h0M569.4,117.8h0M569.5,106.7h0M569.6,129.5h0M569.6,106.7h0M569.7,115.5h0M569.8,117.8h0M569.9,110.3h0M570,138.3h0M570.1,117.8h0M570.2,129.5h0M570.3,124.3h0M570.4,129.5h0M570.5,115.5h0M570.5,117.8h0M570.6,124.3h0M570.7,115.5h0M570.8,120.7h0M570.9,113.5h0M571,111.8h0M571.1,113.5h0M571.2,120.7h0M571.3,117.8h0M571.4,111.8h0M571.5,129.5h0M571.5,120.7h0M571.6,138.3h0M571.7,111.8h0M571.8,113.5h0M571.9,120.7h0M572,138.3h0M572.1,124.3h0M572.2,102.2h0M572.3,129.5h0M572.4,117.8h0M572.5,124.3h0M572.5,113.5h0M572.6,129.5h0M572.7,138.3h0M572.8,115.5h0M572.9,129.5h0M573,113.5h0M573.1,104.7h0M573.2,129.5h0M573.3,129.5h0M573.4,129.5h0M573.5,110.3h0M573.5,106.7h0M573.6,120.7h0M573.7,107.8h0M573.8,113.5h0M573.9,120.7h0M574,110.3h0M574.1,113.5h0M574.2,109h0M574.3,115.5h0M574.4,138.3h0M574.5,129.5h0M574.5,129.5h0M574.6,138.3h0M574.7,120.7h0M574.8,138.3h0M574.9,124.3h0M575,129.5h0M575.1,110.3h0M575.2,138.3h0M575.3,120.7h0M575.4,129.5h0M575.5,124.3h0M575.5,111.8h0M575.6,117.8h0M575.7,138.3h0M575.8,117.8h0M575.9,124.3h0M576,124.3h0M576.1,117.8h0M576.2,117.8h0M576.3,129.5h0M576.4,124.3h0M576.5,120.7h0M576.5,107.8h0M576.6,129.5h0M576.7,120.7h0M576.8,124.3h0M576.9,138.3h0M577,124.3h0M577.1,129.5h0M577.2,117.8h0M577.3,129.5h0M577.4,129.5h0M577.5,129.5h0M577.5,124.3h0M577.6,117.8h0M577.7,129.5h0M577.8,120.7h0M577.9,129.5h0M578,120.7h0M578.1,138.3h0M578.2,124.3h0M578.3,107.8h0M578.4,129.5h0M578.4,138.3h0M578.5,138.3h0M578.6,124.3h0M578.7,124.3h0M578.8,109h0M578.9,129.5h0M579,120.7h0M579.1,117.8h0M579.2,113.5h0M579.3,124.3h0M579.4,113.5h0M579.4,129.5h0M579.5,124.3h0M579.6,117.8h0M579.7,124.3h0M579.8,120.7h0M579.9,120.7h0M580,138.3h0M580.1,138.3h0M580.2,115.5h0M580.3,138.3h0M580.4,117.8h0M580.4,138.3h0M580.5,124.3h0M580.6,120.7h0M580.7,120.7h0M580.8,113.5h0M580.9,138.3h0M581,120.7h0M581.1,138.3h0M581.2,120.7h0M581.3,124.3h0M581.4,129.5h0M581.4,129.5h0M581.5,124.3h0M581.6,113.5h0M581.7,117.8h0M581.8,124.3h0M581.9,120.7h0M582,115.5h0M582.1,129.5h0M582.2,129.5h0M582.3,115.5h0M582.4,124.3h0M582.4,124.3h0M582.5,124.3h0M582.6,129.5h0M582.7,120.7h0M582.8,117.8h0M582.9,129.5h0M583,138.3h0M583.1,129.5h0M583.2,124.3h0M583.3,124.3h0M583.4,120.7h0M583.4,120.7h0M583.5,124.3h0M583.6,138.3h0M583.7,115.5h0M583.8,117.8h0M583.9,120.7h0M584,124.3h0M584.1,138.3h0M584.2,124.3h0M584.3,117.8h0M584.4,120.7h0M584.4,129.5h0M584.5,129.5h0M584.6,120.7h0M584.7,111.8h0M584.8,120.7h0M584.9,138.3h0M585,129.5h0M585.1,138.3h0M585.2,129.5h0M585.3,138.3h0M585.3,138.3h0M585.4,138.3h0M585.5,111.8h0M585.6,138.3h0M585.7,120.7h0M585.8,115.5h0M585.9,138.3h0M586,120.7h0M586.1,120.7h0M586.2,138.3h0M586.3,111.8h0M586.3,129.5h0M586.4,129.5h0M586.5,117.8h0M586.6,138.3h0M586.7,124.3h0M586.8,117.8h0M586.9,117.8h0M587,117.8h0M587.1,129.5h0M587.2,124.3h0M587.3,117.8h0M587.3,115.5h0M587.4,124.3h0M587.5,120.7h0M587.6,129.5h0M587.7,120.7h0M587.8,117.8h0M587.9,124.3h0M588,124.3h0M588.1,117.8h0M588.2,120.7h0M588.3,124.3h0M588.3,124.3h0M588.4,129.5h0M588.5,120.7h0M588.6,120.7h0M588.7,124.3h0M588.8,120.7h0M588.9,124.3h0M589,138.3h0M589.1,138.3h0M589.2,124.3h0M589.3,120.7h0M589.3,113.5h0M589.4,124.3h0M589.5,129.5h0M589.6,124.3h0M589.7,117.8h0M589.8,124.3h0M589.9,117.8h0M590,129.5h0M590.1,129.5h0M590.2,138.3h0M590.3,120.7h0M590.3,129.5h0M590.4,120.7h0M590.5,138.3h0M590.6,117.8h0M590.7,124.3h0M590.8,124.3h0M590.9,117.8h0M591,124.3h0M591.1,138.3h0M591.2,120.7h0M591.3,124.3h0M591.3,138.3h0M591.4,124.3h0M591.5,117.8h0M591.6,138.3h0M591.7,117.8h0M591.8,124.3h0M591.9,129.5h0M592,129.5h0M592.1,124.3h0M592.2,117.8h0M592.3,124.3h0M592.3,124.3h0M592.4,124.3h0M592.5,124.3h0M592.6,113.5h0M592.7,124.3h0M592.8,129.5h0M592.9,120.7h0M593,129.5h0M593.1,129.5h0M593.2,124.3h0M593.2,138.3h0M593.3,120.7h0M593.4,129.5h0M593.5,138.3h0M593.6,124.3h0M593.7,129.5h0M593.8,120.7h0M593.9,129.5h0M594,138.3h0M594.1,138.3h0M594.2,124.3h0M594.2,129.5h0M594.3,124.3h0M594.4,117.8h0M594.5,138.3h0M594.6,117.8h0M594.7,138.3h0M594.8,129.5h0M594.9,129.5h0M595,117.8h0M595.1,124.3h0M595.2,124.3h0M595.2,124.3h0M595.3,124.3h0M595.4,129.5h0M595.5,124.3h0M595.6,129.5h0M595.7,120.7h0M595.8,115.5h0M595.9,138.3h0M596,120.7h0M596.1,117.8h0M596.2,120.7h0M596.2,129.5h0M596.3,113.5h0M596.4,124.3h0M596.5,124.3h0M596.6,129.5h0M596.7,138.3h0M596.8,124.3h0M596.9,124.3h0M597,120.7h0M597.1,117.8h0M597.2,124.3h0M597.2,129.5h0M597.3,138.3h0M597.4,120.7h0M597.5,110.3h0M597.6,124.3h0M597.7,117.8h0M597.8,124.3h0M597.9,120.7h0M598,124.3h0M598.1,111.8h0M598.2,124.3h0M598.2,124.3h0M598.3,124.3h0M598.4,138.3h0M598.5,129.5h0M598.6,129.5h0M598.7,120.7h0M598.8,138.3h0M598.9,124.3h0M599,129.5h0M599.1,138.3h0M599.2,129.5h0M599.2,124.3h0M599.3,124.3h0M599.4,129.5h0M599.5,124.3h0M599.6,120.7h0M599.7,120.7h0M599.8,115.5h0M599.9,124.3h0M600,117.8h0M600.1,124.3h0M600.2,129.5h0M600.2,138.3h0M600.3,124.3h0M600.4,138.3h0M600.5,138.3h0M600.6,138.3h0M600.7,124.3h0M600.8,120.7h0M600.9,117.8h0M601,115.5h0M601.1,120.7h0M601.1,138.3h0M601.2,138.3h0M601.3,124.3h0M601.4,117.8h0M601.5,120.7h0M601.6,117.8h0M601.7,124.3h0M601.8,138.3h0M601.9,138.3h0M602,110.3h0M602.1,138.3h0M602.1,138.3h0M602.2,129.5h0M602.3,129.5h0M602.4,120.7h0M602.5,138.3h0M602.6,120.7h0M602.7,129.5h0M602.8,124.3h0M602.9,117.8h0M603,129.5h0M603.1,117.8h0M603.1,129.5h0M603.2,129.5h0M603.3,120.7h0M603.4,117.8h0M603.5,138.3h0M603.6,129.5h0M603.7,124.3h0M603.8,138.3h0M603.9,124.3h0M604,138.3h0M604.1,129.5h0M604.1,120.7h0M604.2,129.5h0M604.3,117.8h0M604.4,129.5h0M604.5,124.3h0M604.6,129.5h0M604.7,138.3h0M604.8,120.7h0M604.9,129.5h0M605,129.5h0M605.1,129.5h0M605.1,120.7h0M605.2,124.3h0M605.3,115.5h0M605.4,138.3h0M605.5,120.7h0M605.6,124.3h0M605.7,124.3h0M605.8,138.3h0M605.9,120.7h0M606,124.3h0M606.1,138.3h0M606.1,138.3h0M606.2,120.7h0M606.3,124.3h0M606.4,120.7h0M606.5,120.7h0M606.6,138.3h0M606.7,129.5h0M606.8,124.3h0M606.9,117.8h0M607,138.3h0M607.1,117.8h0M607.1,138.3h0M607.2,124.3h0M607.3,138.3h0M607.4,138.3h0M607.5,129.5h0M607.6,129.5h0M607.7,129.5h0M607.8,117.8h0M607.9,120.7h0M608,124.3h0M608,120.7h0M608.1,138.3h0M608.2,129.5h0M608.3,120.7h0M608.4,138.3h0" fill="none" stroke="#6cb85c" stroke-opacity="0.8" stroke-width="3.3" stroke-linecap="round"/>
<path d="M498,40.4h0M498.1,41.6h0M498.2,41.5h0M498.3,40.8h0M498.4,41.9h0M498.5,41h0M498.5,42.1h0M498.6,41.6h0M498.7,42.1h0M498.8,42.8h0M498.9,42.1h0M499,42.4h0M499.1,43.2h0M499.2,44.4h0M499.3,44.1h0M499.4,43.2h0M499.5,44.4h0M499.5,45.2h0M499.6,45.2h0M499.7,46h0M499.8,45.7h0M499.9,45h0M500,45.5h0M500.1,46.1h0M500.2,45.5h0M500.3,46.6h0M500.4,47.4h0M500.5,46.5h0M500.5,48.3h0M500.6,48.8h0M500.7,47.7h0M500.8,47.6h0M500.9,48.7h0M501,49.8h0M501.1,49h0M501.2,47.8h0M501.3,50.6h0M501.4,49.7h0M501.5,50.6h0M501.5,49.7h0M501.6,49.5h0M501.7,49.4h0M501.8,50.2h0M501.9,51.8h0M502,50.2h0M502.1,51.9h0M502.2,51.5h0M502.3,53.1h0M502.4,53.4h0M502.4,51.7h0M502.5,52.5h0M502.6,50.9h0M502.7,53.2h0M502.8,52.9h0M502.9,53.2h0M503,54.5h0M503.1,54.7h0M503.2,54.4h0M503.3,54.6h0M503.4,54.5h0M503.4,55.1h0M503.5,56h0M503.6,56.5h0M503.7,54.7h0M503.8,58h0M503.9,57.2h0M504,56h0M504.1,57.1h0M504.2,54.7h0M504.3,57.6h0M504.4,57.6h0M504.4,57.4h0M504.5,57.2h0M504.6,57.6h0M504.7,59.1h0M504.8,57.7h0M504.9,59.9h0M505,59.6h0M505.1,58.3h0M505.2,59.2h0M505.3,59.5h0M505.4,60.4h0M505.4,60.9h0M505.5,61.3h0M505.6,59.7h0M505.7,62.2h0M505.8,62.6h0M505.9,61.4h0M506,61h0M506.1,62h0M506.2,61.3h0M506.3,62.4h0M506.4,63.4h0M506.4,62.9h0M506.5,63.4h0M506.6,64.1h0M506.7,63.2h0M506.8,64.3h0M506.9,63.6h0M507,65.3h0M507.1,64.1h0M507.2,63.9h0M507.3,65.1h0M507.4,65.5h0M507.4,65.6h0M507.5,65.2h0M507.6,67.4h0M507.7,65.1h0M507.8,68h0M507.9,67.3h0M508,65.5h0M508.1,67.3h0M508.2,67.2h0M508.3,67.4h0M508.4,68.1h0M508.4,67.1h0M508.5,67.9h0M508.6,68.5h0M508.7,69.1h0M508.8,66.8h0M508.9,68.8h0M509,70.3h0M509.1,71.1h0M509.2,71.3h0M509.3,70h0M509.4,70.6h0M509.4,69.8h0M509.5,71.3h0M509.6,69.8h0M509.7,71h0M509.8,71.1h0M509.9,73.4h0M510,71.3h0M510.1,72.6h0M510.2,71.6h0M510.3,73.3h0M510.3,73.5h0M510.4,75h0M510.5,73.6h0M510.6,73.6h0M510.7,73.5h0M510.8,74.1h0M510.9,74.5h0M511,74.1h0M511.1,73.7h0M511.2,76.4h0M511.3,73.3h0M511.3,77.7h0M511.4,75.1h0M511.5,76.8h0M511.6,77.5h0M511.7,76.1h0M511.8,78h0M511.9,77.9h0M512,78h0M512.1,77.8h0M512.2,78.6h0M512.3,76.7h0M512.3,76.9h0M512.4,78.3h0M512.5,78.3h0M512.6,78.5h0M512.7,80.5h0M512.8,78.4h0M512.9,79.8h0M513,80.2h0M513.1,80.9h0M513.2,81.9h0M513.3,81.2h0M513.3,82.2h0M513.4,80.2h0M513.5,80.2h0M513.6,81.5h0M513.7,81.8h0M513.8,83.9h0M513.9,82.4h0M514,83.9h0M514.1,82.4h0M514.2,82.9h0M514.3,83.7h0M514.3,80.9h0M514.4,82.4h0M514.5,83.2h0M514.6,82.9h0M514.7,85.6h0M514.8,84.4h0M514.9,84.4h0M515,83.7h0M515.1,84.2h0M515.2,84.8h0M515.3,83.5h0M515.3,86.6h0M515.4,88h0M515.5,85.8h0M515.6,88h0M515.7,86.6h0M515.8,86.6h0M515.9,90.1h0M516,88.5h0M516.1,89.6h0M516.2,89.3h0M516.3,86.6h0M516.3,88.3h0M516.4,91.4h0M516.5,86.4h0M516.6,89.6h0M516.7,89.3h0M516.8,89.6h0M516.9,92h0M517,88.3h0M517.1,88h0M517.2,88.3h0M517.2,89.3h0M517.3,92.4h0M517.4,95h0M517.5,92.7h0M517.6,90.1h0M517.7,92.4h0M517.8,95.9h0M517.9,124.3h0M518,91h0M518.1,93.8h0M518.2,95.5h0M518.2,94.6h0M518.3,111.8h0M518.4,94.2h0M518.5,92.4h0M518.6,99.6h0M518.7,93.4h0M518.8,94.6h0M518.9,91.4h0M519,95h0M519.1,95.9h0M519.2,96.4h0M519.2,96.8h0M519.3,95.5h0M519.4,95.9h0M519.5,95.5h0M519.6,94.2h0M519.7,95.9h0M519.8,94.6h0M519.9,101.5h0M520,92.4h0M520.1,117.8h0M520.2,97.3h0M520.2,95h0M520.3,96.8h0M520.4,94.6h0M520.5,110.3h0M520.6,100.8h0M520.7,117.8h0M520.8,99.6h0M520.9,98.4h0M521,117.8h0M521.1,129.5h0M521.2,103h0M521.2,99.6h0M521.3,104.7h0M521.4,111.8h0M521.5,103.8h0M521.6,103h0M521.7,95h0M521.8,113.5h0M521.9,113.5h0M522,99.6h0M522.1,99h0M522.2,100.2h0M522.2,124.3h0M522.3,101.5h0M522.4,99h0M522.5,103.8h0M522.6,124.3h0M522.7,120.7h0M522.8,100.8h0M522.9,103h0M523,117.8h0M523.1,109h0M523.2,97.3h0M523.2,111.8h0M523.3,138.3h0M523.4,120.7h0M523.5,107.8h0M523.6,110.3h0M523.7,110.3h0M523.8,107.8h0M523.9,111.8h0M524,105.7h0M524.1,124.3h0M524.2,138.3h0M524.2,138.3h0M524.3,110.3h0M524.4,100.2h0M524.5,124.3h0M524.6,115.5h0M524.7,103.8h0M524.8,111.8h0M524.9,138.3h0M525,124.3h0M525.1,103.8h0M525.1,120.7h0M525.2,109h0M525.3,105.7h0M525.4,117.8h0M525.5,101.5h0M525.6,124.3h0M525.7,129.5h0M525.8,107.8h0M525.9,105.7h0M526,106.7h0M526.1,138.3h0M526.1,106.7h0M526.2,120.7h0M526.3,124.3h0M526.4,111.8h0M526.5,124.3h0M526.6,138.3h0M526.7,105.7h0M526.8,124.3h0M526.9,106.7h0M527,110.3h0M527.1,129.5h0M527.1,138.3h0M527.2,129.5h0M527.3,138.3h0M527.4,124.3h0M527.5,106.7h0M527.6,138.3h0M527.7,111.8h0M527.8,138.3h0M527.9,124.3h0M528,129.5h0M528.1,138.3h0M528.1,129.5h0M528.2,138.3h0M528.3,120.7h0M528.4,109h0M528.5,124.3h0M528.6,129.5h0M528.7,120.7h0M528.8,129.5h0M528.9,129.5h0M529,111.8h0M529.1,129.5h0M529.1,124.3h0M529.2,124.3h0M529.3,120.7h0M529.4,138.3h0M529.5,138.3h0M529.6,124.3h0M529.7,129.5h0M529.8,124.3h0M529.9,120.7h0M530,129.5h0M530.1,124.3h0M530.1,120.7h0M530.2,129.5h0M530.3,124.3h0M530.4,124.3h0M530.5,129.5h0M530.6,124.3h0M530.7,124.3h0M530.8,129.5h0M530.9,129.5h0M531,115.5h0M531.1,124.3h0M531.1,110.3h0M531.2,129.5h0M531.3,129.5h0M531.4,115.5h0M531.5,129.5h0M531.6,138.3h0M531.7,138.3h0M531.8,124.3h0M531.9,124.3h0M532,124.3h0M532.1,115.5h0M532.1,124.3h0M532.2,120.7h0M532.3,124.3h0M532.4,120.7h0M532.5,138.3h0M532.6,129.5h0M532.7,129.5h0M532.8,113.5h0M532.9,129.5h0M533,124.3h0M533,120.7h0M533.1,129.5h0M533.2,124.3h0M533.3,129.5h0M533.4,138.3h0M533.5,129.5h0M533.6,129.5h0M533.7,129.5h0M533.8,124.3h0M533.9,120.7h0M534,124.3h0M534,129.5h0M534.1,129.5h0M534.2,124.3h0M534.3,120.7h0M534.4,138.3h0M534.5,124.3h0M534.6,124.3h0M534.7,129.5h0M534.8,129.5h0M534.9,129.5h0M535,129.5h0M535,129.5h0M535.1,124.3h0M535.2,138.3h0M535.3,129.5h0M535.4,129.5h0M535.5,120.7h0M535.6,138.3h0M535.7,129.5h0M535.8,138.3h0M535.9,117.8h0M536,129.5h0M536,138.3h0M536.1,129.5h0M536.2,138.3h0M536.3,124.3h0M536.4,138.3h0M536.5,129.5h0M536.6,138.3h0M536.7,124.3h0M536.8,138.3h0M536.9,129.5h0M537,138.3h0M537,129.5h0M537.1,124.3h0M537.2,129.5h0M537.3,138.3h0M537.4,129.5h0M537.5,138.3h0M537.6,120.7h0M537.7,129.5h0M537.8,129.5h0M537.9,124.3h0M538,129.5h0M538,117.8h0M538.1,124.3h0M538.2,129.5h0M538.3,138.3h0M538.4,129.5h0M538.5,124.3h0M538.6,124.3h0M538.7,120.7h0M538.8,124.3h0M538.9,124.3h0M539,124.3h0M539,124.3h0M539.1,138.3h0M539.2,124.3h0M539.3,138.3h0M539.4,138.3h0M539.5,124.3h0M539.6,129.5h0M539.7,124.3h0M539.8,120.7h0M539.9,129.5h0M539.9,129.5h0M540,124.3h0M540.1,129.5h0M540.2,129.5h0M540.3,120.7h0M540.4,138.3h0M540.5,138.3h0M540.6,124.3h0M540.7,124.3h0M540.8,129.5h0M540.9,124.3h0M540.9,129.5h0M541,129.5h0M541.1,124.3h0M541.2,124.3h0M541.3,124.3h0M541.4,138.3h0M541.5,138.3h0M541.6,120.7h0M541.7,138.3h0M541.8,124.3h0M541.9,138.3h0M541.9,124.3h0M542,129.5h0M542.1,124.3h0M542.2,124.3h0M542.3,124.3h0M542.4,129.5h0M542.5,124.3h0M542.6,129.5h0M542.7,124.3h0M542.8,129.5h0M542.9,124.3h0M542.9,138.3h0M543,138.3h0M543.1,138.3h0M543.2,124.3h0M543.3,124.3h0M543.4,129.5h0M543.5,129.5h0M543.6,129.5h0M543.7,129.5h0M543.8,124.3h0M543.9,129.5h0M543.9,120.7h0M544,124.3h0M544.1,129.5h0M544.2,124.3h0M544.3,124.3h0M544.4,138.3h0M544.5,124.3h0M544.6,129.5h0M544.7,124.3h0M544.8,129.5h0M544.9,138.3h0M544.9,138.3h0M545,138.3h0M545.1,124.3h0M545.2,138.3h0M545.3,129.5h0M545.4,129.5h0M545.5,129.5h0M545.6,138.3h0M545.7,138.3h0M545.8,124.3h0M545.9,138.3h0M545.9,129.5h0M546,124.3h0M546.1,138.3h0M546.2,124.3h0M546.3,129.5h0M546.4,129.5h0M546.5,124.3h0M546.6,124.3h0M546.7,124.3h0M546.8,124.3h0M546.9,124.3h0M546.9,138.3h0M547,129.5h0M547.1,138.3h0M547.2,124.3h0M547.3,124.3h0M547.4,124.3h0M547.5,129.5h0M547.6,124.3h0M547.7,138.3h0M547.8,124.3h0M547.8,129.5h0M547.9,129.5h0M548,129.5h0M548.1,129.5h0M548.2,138.3h0M548.3,129.5h0M548.4,124.3h0M548.5,129.5h0M548.6,138.3h0M548.7,129.5h0M548.8,138.3h0M548.8,129.5h0M548.9,124.3h0M549,124.3h0M549.1,120.7h0M549.2,120.7h0M549.3,138.3h0M549.4,124.3h0M549.5,129.5h0M549.6,124.3h0M549.7,124.3h0M549.8,138.3h0M549.8,138.3h0M549.9,138.3h0M550,138.3h0M550.1,124.3h0M550.2,124.3h0M550.3,124.3h0M550.4,129.5h0M550.5,138.3h0M550.6,129.5h0M550.7,124.3h0M550.8,124.3h0M550.8,124.3h0M550.9,124.3h0M551,124.3h0M551.1,124.3h0M551.2,138.3h0M551.3,124.3h0M551.4,138.3h0M551.5,129.5h0M551.6,138.3h0M551.7,124.3h0M551.8,124.3h0M551.8,124.3h0M551.9,138.3h0M552,138.3h0M552.1,138.3h0M552.2,124.3h0M552.3,129.5h0M552.4,124.3h0M552.5,129.5h0M552.6,124.3h0M552.7,138.3h0M552.8,129.5h0M552.8,129.5h0M552.9,124.3h0M553,129.5h0M553.1,129.5h0M553.2,138.3h0M553.3,129.5h0M553.4,129.5h0M553.5,129.5h0M553.6,138.3h0M553.7,129.5h0M553.8,138.3h0M553.8,129.5h0M553.9,129.5h0M554,124.3h0M554.1,129.5h0M554.2,129.5h0M554.3,124.3h0M554.4,124.3h0M554.5,124.3h0M554.6,129.5h0M554.7,124.3h0M554.8,124.3h0M554.8,138.3h0M554.9,129.5h0M555,138.3h0M555.1,124.3h0M555.2,129.5h0M555.3,138.3h0M555.4,124.3h0M555.5,129.5h0M555.6,124.3h0M555.7,129.5h0M555.7,129.5h0M555.8,129.5h0M555.9,129.5h0M556,129.5h0M556.1,129.5h0M556.2,124.3h0M556.3,138.3h0M556.4,124.3h0M556.5,129.5h0M556.6,138.3h0M556.7,124.3h0M556.7,124.3h0M556.8,124.3h0M556.9,124.3h0M557,129.5h0M557.1,129.5h0M557.2,124.3h0M557.3,138.3h0M557.4,138.3h0M557.5,129.5h0M557.6,129.5h0M557.7,138.3h0M557.7,138.3h0M557.8,129.5h0M557.9,124.3h0M558,124.3h0M558.1,124.3h0M558.2,138.3h0M558.3,138.3h0M558.4,129.5h0M558.5,124.3h0M558.6,129.5h0M558.7,124.3h0M558.7,129.5h0M558.8,129.5h0M558.9,129.5h0M559,129.5h0M559.1,138.3h0M559.2,138.3h0M559.3,129.5h0M559.4,138.3h0M559.5,129.5h0M559.6,129.5h0M559.7,129.5h0M559.7,124.3h0M559.8,138.3h0M559.9,129.5h0M560,129.5h0M560.1,138.3h0M560.2,129.5h0M560.3,129.5h0M560.4,129.5h0M560.5,129.5h0M560.6,138.3h0M560.7,124.3h0M560.7,138.3h0M560.8,124.3h0M560.9,138.3h0M561,129.5h0M561.1,124.3h0M561.2,138.3h0M561.3,138.3h0M561.4,124.3h0M561.5,129.5h0M561.6,138.3h0M561.7,129.5h0M561.7,138.3h0M561.8,124.3h0M561.9,138.3h0M562,129.5h0M562.1,124.3h0M562.2,138.3h0M562.3,124.3h0M562.4,129.5h0M562.5,129.5h0M562.6,138.3h0M562.6,138.3h0M562.7,129.5h0M562.8,124.3h0M562.9,124.3h0M563,129.5h0M563.1,124.3h0M563.2,129.5h0M563.3,124.3h0M563.4,138.3h0M563.5,138.3h0M563.6,124.3h0M563.6,138.3h0M563.7,138.3h0M563.8,129.5h0M563.9,124.3h0M564,138.3h0M564.1,129.5h0M564.2,138.3h0M564.3,138.3h0M564.4,124.3h0M564.5,129.5h0M564.6,138.3h0M564.6,138.3h0M564.7,129.5h0M564.8,138.3h0M564.9,138.3h0M565,129.5h0M565.1,138.3h0M565.2,138.3h0M565.3,129.5h0M565.4,129.5h0M565.5,124.3h0M565.6,129.5h0M565.6,124.3h0M565.7,129.5h0M565.8,129.5h0M565.9,129.5h0M566,124.3h0" fill="none" stroke="#32a0cc" stroke-opacity="0.8" stroke-width="3.3" stroke-linecap="round"/>
</g>
<rect x="498.0" y="3.5" width="181.6" height="146.5" fill="none" stroke="#262626" stroke-width="1.6"/>
<line x1="498" y1="150" x2="498" y2="154.3" stroke="#262626" stroke-width="1"/>
<text x="498" y="162.6" font-size="10.2" text-anchor="middle" fill="#000">20</text>
<line x1="513.1" y1="150" x2="513.1" y2="152.6" stroke="#262626" stroke-width="1"/>
<line x1="528.3" y1="150" x2="528.3" y2="154.3" stroke="#262626" stroke-width="1"/>
<text x="528.3" y="162.6" font-size="10.2" text-anchor="middle" fill="#000">30</text>
<line x1="543.4" y1="150" x2="543.4" y2="152.6" stroke="#262626" stroke-width="1"/>
<line x1="558.5" y1="150" x2="558.5" y2="154.3" stroke="#262626" stroke-width="1"/>
<text x="558.5" y="162.6" font-size="10.2" text-anchor="middle" fill="#000">40</text>
<line x1="573.7" y1="150" x2="573.7" y2="152.6" stroke="#262626" stroke-width="1"/>
<line x1="588.8" y1="150" x2="588.8" y2="154.3" stroke="#262626" stroke-width="1"/>
<text x="588.8" y="162.6" font-size="10.2" text-anchor="middle" fill="#000">50</text>
<line x1="603.9" y1="150" x2="603.9" y2="152.6" stroke="#262626" stroke-width="1"/>
<line x1="619.1" y1="150" x2="619.1" y2="154.3" stroke="#262626" stroke-width="1"/>
<text x="619.1" y="162.6" font-size="10.2" text-anchor="middle" fill="#000">60</text>
<line x1="634.2" y1="150" x2="634.2" y2="152.6" stroke="#262626" stroke-width="1"/>
<line x1="649.3" y1="150" x2="649.3" y2="154.3" stroke="#262626" stroke-width="1"/>
<text x="649.3" y="162.6" font-size="10.2" text-anchor="middle" fill="#000">70</text>
<line x1="664.5" y1="150" x2="664.5" y2="152.6" stroke="#262626" stroke-width="1"/>
<line x1="679.6" y1="150" x2="679.6" y2="154.3" stroke="#262626" stroke-width="1"/>
<text x="679.6" y="162.6" font-size="10.2" text-anchor="middle" fill="#000">80</text>
<line x1="495.6" y1="150" x2="498" y2="150" stroke="#262626" stroke-width="0.9"/>
<line x1="495.6" y1="147.1" x2="498" y2="147.1" stroke="#262626" stroke-width="0.9"/>
<line x1="495.6" y1="144.8" x2="498" y2="144.8" stroke="#262626" stroke-width="0.9"/>
<line x1="495.6" y1="142.8" x2="498" y2="142.8" stroke="#262626" stroke-width="0.9"/>
<line x1="495.6" y1="141.1" x2="498" y2="141.1" stroke="#262626" stroke-width="0.9"/>
<line x1="495.6" y1="139.6" x2="498" y2="139.6" stroke="#262626" stroke-width="0.9"/>
<line x1="493.7" y1="138.3" x2="498" y2="138.3" stroke="#262626" stroke-width="1.1"/>
<text x="492.5" y="142" font-size="10" text-anchor="end" fill="#000">10<tspan font-size="7" dy="-4.5">2</tspan></text>
<line x1="495.6" y1="129.5" x2="498" y2="129.5" stroke="#262626" stroke-width="0.9"/>
<line x1="495.6" y1="124.3" x2="498" y2="124.3" stroke="#262626" stroke-width="0.9"/>
<line x1="495.6" y1="120.7" x2="498" y2="120.7" stroke="#262626" stroke-width="0.9"/>
<line x1="495.6" y1="117.8" x2="498" y2="117.8" stroke="#262626" stroke-width="0.9"/>
<line x1="495.6" y1="115.5" x2="498" y2="115.5" stroke="#262626" stroke-width="0.9"/>
<line x1="495.6" y1="113.5" x2="498" y2="113.5" stroke="#262626" stroke-width="0.9"/>
<line x1="495.6" y1="111.8" x2="498" y2="111.8" stroke="#262626" stroke-width="0.9"/>
<line x1="495.6" y1="110.3" x2="498" y2="110.3" stroke="#262626" stroke-width="0.9"/>
<line x1="493.7" y1="109" x2="498" y2="109" stroke="#262626" stroke-width="1.1"/>
<text x="492.5" y="112.7" font-size="10" text-anchor="end" fill="#000">10<tspan font-size="7" dy="-4.5">3</tspan></text>
<line x1="495.6" y1="100.2" x2="498" y2="100.2" stroke="#262626" stroke-width="0.9"/>
<line x1="495.6" y1="95" x2="498" y2="95" stroke="#262626" stroke-width="0.9"/>
<line x1="495.6" y1="91.4" x2="498" y2="91.4" stroke="#262626" stroke-width="0.9"/>
<line x1="495.6" y1="88.5" x2="498" y2="88.5" stroke="#262626" stroke-width="0.9"/>
<line x1="495.6" y1="86.2" x2="498" y2="86.2" stroke="#262626" stroke-width="0.9"/>
<line x1="495.6" y1="84.2" x2="498" y2="84.2" stroke="#262626" stroke-width="0.9"/>
<line x1="495.6" y1="82.5" x2="498" y2="82.5" stroke="#262626" stroke-width="0.9"/>
<line x1="495.6" y1="81" x2="498" y2="81" stroke="#262626" stroke-width="0.9"/>
<line x1="493.7" y1="79.7" x2="498" y2="79.7" stroke="#262626" stroke-width="1.1"/>
<text x="492.5" y="83.4" font-size="10" text-anchor="end" fill="#000">10<tspan font-size="7" dy="-4.5">4</tspan></text>
<line x1="495.6" y1="70.9" x2="498" y2="70.9" stroke="#262626" stroke-width="0.9"/>
<line x1="495.6" y1="65.7" x2="498" y2="65.7" stroke="#262626" stroke-width="0.9"/>
<line x1="495.6" y1="62.1" x2="498" y2="62.1" stroke="#262626" stroke-width="0.9"/>
<line x1="495.6" y1="59.2" x2="498" y2="59.2" stroke="#262626" stroke-width="0.9"/>
<line x1="495.6" y1="56.9" x2="498" y2="56.9" stroke="#262626" stroke-width="0.9"/>
<line x1="495.6" y1="54.9" x2="498" y2="54.9" stroke="#262626" stroke-width="0.9"/>
<line x1="495.6" y1="53.2" x2="498" y2="53.2" stroke="#262626" stroke-width="0.9"/>
<line x1="495.6" y1="51.7" x2="498" y2="51.7" stroke="#262626" stroke-width="0.9"/>
<line x1="493.7" y1="50.4" x2="498" y2="50.4" stroke="#262626" stroke-width="1.1"/>
<text x="492.5" y="54.1" font-size="10" text-anchor="end" fill="#000">10<tspan font-size="7" dy="-4.5">5</tspan></text>
<line x1="495.6" y1="41.6" x2="498" y2="41.6" stroke="#262626" stroke-width="0.9"/>
<line x1="495.6" y1="36.4" x2="498" y2="36.4" stroke="#262626" stroke-width="0.9"/>
<line x1="495.6" y1="32.8" x2="498" y2="32.8" stroke="#262626" stroke-width="0.9"/>
<line x1="495.6" y1="29.9" x2="498" y2="29.9" stroke="#262626" stroke-width="0.9"/>
<line x1="495.6" y1="27.6" x2="498" y2="27.6" stroke="#262626" stroke-width="0.9"/>
<line x1="495.6" y1="25.6" x2="498" y2="25.6" stroke="#262626" stroke-width="0.9"/>
<line x1="495.6" y1="23.9" x2="498" y2="23.9" stroke="#262626" stroke-width="0.9"/>
<line x1="495.6" y1="22.4" x2="498" y2="22.4" stroke="#262626" stroke-width="0.9"/>
<line x1="493.7" y1="21.1" x2="498" y2="21.1" stroke="#262626" stroke-width="1.1"/>
<text x="492.5" y="24.8" font-size="10" text-anchor="end" fill="#000">10<tspan font-size="7" dy="-4.5">6</tspan></text>
<line x1="495.6" y1="12.3" x2="498" y2="12.3" stroke="#262626" stroke-width="0.9"/>
<line x1="495.6" y1="7.1" x2="498" y2="7.1" stroke="#262626" stroke-width="0.9"/>
<text x="588.3" y="179.2" font-size="11" text-anchor="middle" fill="#000">Time (s)</text>
<text x="470.4" y="72.3" font-size="11" text-anchor="middle" fill="#000" transform="rotate(-90 470.4 72.3)">Intensity (counts)</text>
<text x="451.3" y="13.4" font-size="18" text-anchor="start" font-weight="bold" fill="#000">c</text>
<text x="582.7" y="15.6" font-size="8.9" text-anchor="start" fill="#000">Glass</text>
<circle cx="573.5" cy="22.7" r="1.6" fill="#32a0cc" fill-opacity="0.5" stroke="#32a0cc" stroke-width="0.8"/>
<text x="581.7" y="25.9" font-size="8.8" text-anchor="start" fill="#000">NFD/BTA</text>
<text x="629" y="25.8" font-size="8.5" text-anchor="start" fill="#000"><tspan font-family="Liberation Serif">τ</tspan> = 1.62 s</text>
<circle cx="573.5" cy="32.8" r="1.6" fill="#6cb85c" fill-opacity="0.5" stroke="#6cb85c" stroke-width="0.8"/>
<text x="581.7" y="36" font-size="8.8" text-anchor="start" fill="#000">BFT/BTA</text>
<text x="629" y="35.9" font-size="8.5" text-anchor="start" fill="#000"><tspan font-family="Liberation Serif">τ</tspan> = 2.82 s</text>
<circle cx="573.5" cy="42.9" r="1.6" fill="#f46a32" fill-opacity="0.5" stroke="#f46a32" stroke-width="0.8"/>
<text x="581.7" y="46.1" font-size="8.8" text-anchor="start" fill="#000">TFH/BTA</text>
<text x="629" y="46" font-size="8.5" text-anchor="start" fill="#000"><tspan font-family="Liberation Serif">τ</tspan> = 3.80 s</text>
<rect x="269.3" y="303.5" width="23.8" height="28.6" fill="url(#bb)"/>
<rect x="293.1" y="285.4" width="23.8" height="46.7" fill="url(#bo)"/>
<text x="281.2" y="301.3" font-size="9.0" text-anchor="middle" fill="#000">0.99</text>
<text x="305" y="283.2" font-size="9.0" text-anchor="middle" fill="#000">1.62</text>
<rect x="329.3" y="297.5" width="23.8" height="34.6" fill="url(#bb)"/>
<rect x="353.1" y="250.8" width="23.8" height="81.3" fill="url(#bo)"/>
<text x="341.2" y="295.3" font-size="9.0" text-anchor="middle" fill="#000">1.20</text>
<text x="365" y="248.6" font-size="9.0" text-anchor="middle" fill="#000">2.82</text>
<rect x="389.3" y="286" width="23.8" height="46.1" fill="url(#bb)"/>
<rect x="413.1" y="222.5" width="23.8" height="109.6" fill="url(#bo)"/>
<text x="401.2" y="283.8" font-size="9.0" text-anchor="middle" fill="#000">1.60</text>
<text x="425" y="220.3" font-size="9.0" text-anchor="middle" fill="#000">3.80</text>
<rect x="263.2" y="187.9" width="179.4" height="144.2" fill="none" stroke="#262626" stroke-width="1.6"/>
<line x1="258.9" y1="332.1" x2="263.2" y2="332.1" stroke="#262626" stroke-width="1"/>
<text x="258" y="335.8" font-size="10.2" text-anchor="end" fill="#000">0</text>
<line x1="260.6" y1="317.7" x2="263.2" y2="317.7" stroke="#262626" stroke-width="1"/>
<line x1="258.9" y1="303.3" x2="263.2" y2="303.3" stroke="#262626" stroke-width="1"/>
<text x="258" y="307" font-size="10.2" text-anchor="end" fill="#000">1</text>
<line x1="260.6" y1="288.8" x2="263.2" y2="288.8" stroke="#262626" stroke-width="1"/>
<line x1="258.9" y1="274.4" x2="263.2" y2="274.4" stroke="#262626" stroke-width="1"/>
<text x="258" y="278.1" font-size="10.2" text-anchor="end" fill="#000">2</text>
<line x1="260.6" y1="260" x2="263.2" y2="260" stroke="#262626" stroke-width="1"/>
<line x1="258.9" y1="245.6" x2="263.2" y2="245.6" stroke="#262626" stroke-width="1"/>
<text x="258" y="249.3" font-size="10.2" text-anchor="end" fill="#000">3</text>
<line x1="260.6" y1="231.2" x2="263.2" y2="231.2" stroke="#262626" stroke-width="1"/>
<line x1="258.9" y1="216.7" x2="263.2" y2="216.7" stroke="#262626" stroke-width="1"/>
<text x="258" y="220.5" font-size="10.2" text-anchor="end" fill="#000">4</text>
<line x1="260.6" y1="202.3" x2="263.2" y2="202.3" stroke="#262626" stroke-width="1"/>
<line x1="258.9" y1="187.9" x2="263.2" y2="187.9" stroke="#262626" stroke-width="1"/>
<text x="258" y="191.6" font-size="10.2" text-anchor="end" fill="#000">5</text>
<line x1="293.1" y1="332.1" x2="293.1" y2="336.4" stroke="#262626" stroke-width="1.1"/>
<text x="293.6" y="348.5" font-size="11.1" text-anchor="middle" fill="#000">NFD/BTA</text>
<line x1="353.1" y1="332.1" x2="353.1" y2="336.4" stroke="#262626" stroke-width="1.1"/>
<text x="353.6" y="348.5" font-size="11.1" text-anchor="middle" fill="#000">BFT/BTA</text>
<line x1="413.1" y1="332.1" x2="413.1" y2="336.4" stroke="#262626" stroke-width="1.1"/>
<text x="413.6" y="348.5" font-size="11.1" text-anchor="middle" fill="#000">TFH/BTA</text>
<text x="244.5" y="255" font-size="11" text-anchor="middle" fill="#000" transform="rotate(-90 244.5 255)">Lifetime (s)</text>
<text x="227.2" y="192.1" font-size="18" text-anchor="start" font-weight="bold" fill="#000">d</text>
<rect x="269.1" y="196.6" width="19.1" height="8.5" fill="url(#bb)"/>
<rect x="269.1" y="207.2" width="19.1" height="8.5" fill="url(#bo)"/>
<text x="290.8" y="204.4" font-size="8.8" text-anchor="start" fill="#000">Crystal</text>
<text x="290.8" y="215.1" font-size="8.8" text-anchor="start" fill="#000">Glass</text>
<rect x="505.3" y="258.1" width="23.9" height="3.4" fill="url(#bb)"/>
<rect x="529.2" y="256.3" width="23.9" height="5.2" fill="url(#bo)"/>
<text x="517.2" y="255.9" font-size="9.0" text-anchor="middle" fill="#000">3.7</text>
<text x="541.1" y="254.1" font-size="9.0" text-anchor="middle" fill="#000">5.7</text>
<rect x="505.3" y="274.4" width="23.9" height="59.2" fill="url(#bb)"/>
<rect x="529.2" y="298.2" width="23.9" height="35.4" fill="url(#bo)"/>
<text x="517.2" y="272.2" font-size="9.0" text-anchor="middle" fill="#000">0.97</text>
<text x="541.1" y="296" font-size="9.0" text-anchor="middle" fill="#000">0.58</text>
<line x1="529.2" y1="333.6" x2="529.2" y2="337.9" stroke="#262626" stroke-width="1.1"/>
<text x="529.6" y="349.2" font-size="11.1" text-anchor="middle" fill="#000">NFD/BTA</text>
<rect x="565.2" y="249.5" width="23.9" height="12" fill="url(#bb)"/>
<rect x="589.1" y="239.6" width="23.9" height="21.9" fill="url(#bo)"/>
<text x="577.2" y="247.3" font-size="9.0" text-anchor="middle" fill="#000">13.1</text>
<text x="601.1" y="237.4" font-size="9.0" text-anchor="middle" fill="#000">23.9</text>
<rect x="565.2" y="289.7" width="23.9" height="43.9" fill="url(#bb)"/>
<rect x="589.1" y="317.7" width="23.9" height="15.9" fill="url(#bo)"/>
<text x="577.2" y="287.5" font-size="9.0" text-anchor="middle" fill="#000">0.72</text>
<text x="601.1" y="315.5" font-size="9.0" text-anchor="middle" fill="#000">0.26</text>
<line x1="589.1" y1="333.6" x2="589.1" y2="337.9" stroke="#262626" stroke-width="1.1"/>
<text x="589.5" y="349.2" font-size="11.1" text-anchor="middle" fill="#000">BFT/BTA</text>
<rect x="625.6" y="236.2" width="23.9" height="25.3" fill="url(#bb)"/>
<rect x="649.5" y="209.5" width="23.9" height="52" fill="url(#bo)"/>
<text x="637.6" y="234" font-size="9.0" text-anchor="middle" fill="#000">27.6</text>
<text x="661.5" y="207.3" font-size="9.0" text-anchor="middle" fill="#000">56.8</text>
<rect x="625.6" y="306.2" width="23.9" height="27.4" fill="url(#bb)"/>
<rect x="649.5" y="326.9" width="23.9" height="6.7" fill="url(#bo)"/>
<text x="637.6" y="304" font-size="9.0" text-anchor="middle" fill="#000">0.45</text>
<text x="661.5" y="324.7" font-size="9.0" text-anchor="middle" fill="#000">0.11</text>
<line x1="649.5" y1="333.6" x2="649.5" y2="337.9" stroke="#262626" stroke-width="1.1"/>
<text x="649.9" y="349.2" font-size="11.1" text-anchor="middle" fill="#000">TFH/BTA</text>
<rect x="499.1" y="188.3" width="180.5" height="145.3" fill="none" stroke="#262626" stroke-width="1.6"/>
<line x1="499.1" y1="261.5" x2="679.6" y2="261.5" stroke="#262626" stroke-width="1.6"/>
<line x1="494.8" y1="261.5" x2="499.1" y2="261.5" stroke="#262626" stroke-width="1"/>
<text x="495.2" y="265.2" font-size="10.2" text-anchor="end" fill="#000">0</text>
<line x1="496.5" y1="252.3" x2="499.1" y2="252.3" stroke="#262626" stroke-width="1"/>
<line x1="494.8" y1="243.2" x2="499.1" y2="243.2" stroke="#262626" stroke-width="1"/>
<text x="495.2" y="246.9" font-size="10.2" text-anchor="end" fill="#000">20</text>
<line x1="496.5" y1="234.1" x2="499.1" y2="234.1" stroke="#262626" stroke-width="1"/>
<line x1="494.8" y1="224.9" x2="499.1" y2="224.9" stroke="#262626" stroke-width="1"/>
<text x="495.2" y="228.6" font-size="10.2" text-anchor="end" fill="#000">40</text>
<line x1="496.5" y1="215.8" x2="499.1" y2="215.8" stroke="#262626" stroke-width="1"/>
<line x1="494.8" y1="206.6" x2="499.1" y2="206.6" stroke="#262626" stroke-width="1"/>
<text x="495.2" y="210.3" font-size="10.2" text-anchor="end" fill="#000">60</text>
<line x1="496.5" y1="197.5" x2="499.1" y2="197.5" stroke="#262626" stroke-width="1"/>
<line x1="494.8" y1="188.3" x2="499.1" y2="188.3" stroke="#262626" stroke-width="1"/>
<text x="495.2" y="192" font-size="10.2" text-anchor="end" fill="#000">80</text>
<line x1="494.8" y1="333.6" x2="499.1" y2="333.6" stroke="#262626" stroke-width="1"/>
<text x="495.2" y="337.3" font-size="10.2" text-anchor="end" fill="#000">0.0</text>
<line x1="496.5" y1="324.5" x2="499.1" y2="324.5" stroke="#262626" stroke-width="1"/>
<line x1="494.8" y1="315.3" x2="499.1" y2="315.3" stroke="#262626" stroke-width="1"/>
<text x="495.2" y="319" font-size="10.2" text-anchor="end" fill="#000">0.3</text>
<line x1="496.5" y1="306.2" x2="499.1" y2="306.2" stroke="#262626" stroke-width="1"/>
<line x1="494.8" y1="297" x2="499.1" y2="297" stroke="#262626" stroke-width="1"/>
<text x="495.2" y="300.7" font-size="10.2" text-anchor="end" fill="#000">0.6</text>
<line x1="496.5" y1="287.9" x2="499.1" y2="287.9" stroke="#262626" stroke-width="1"/>
<line x1="494.8" y1="278.7" x2="499.1" y2="278.7" stroke="#262626" stroke-width="1"/>
<text x="495.2" y="282.4" font-size="10.2" text-anchor="end" fill="#000">0.9</text>
<text x="475.6" y="222.9" font-size="10.4" text-anchor="middle" fill="#000" transform="rotate(-90 475.6 222.9)">Phos. Q. Y. (%)</text>
<text x="475.6" y="295.9" font-size="10.8" text-anchor="middle" fill="#000" transform="rotate(-90 475.6 295.9)"><tspan font-style="italic">k</tspan><tspan font-size="7.2" dy="2.2">nr</tspan><tspan font-size="7.2" dx="-0.3" dy="-7.2">P</tspan><tspan dx="-0.5" dy="5"> (s</tspan><tspan font-size="7.2" dy="-4">-1</tspan><tspan dy="4">)</tspan></text>
<text x="451.3" y="192.1" font-size="18" text-anchor="start" font-weight="bold" fill="#000">e</text>
<rect x="505.1" y="196" width="18.8" height="8.4" fill="url(#bb)"/>
<rect x="505.1" y="206.2" width="18.8" height="8.4" fill="url(#bo)"/>
<text x="526.6" y="203.7" font-size="8.8" text-anchor="start" fill="#000">Crystal</text>
<text x="526.6" y="214.2" font-size="8.8" text-anchor="start" fill="#000">Glass</text>
<rect x="18.4" y="356.9" width="664.6" height="146.1" rx="13" ry="13" fill="#000"/>
<text x="-0.3" y="378.8" font-size="18" text-anchor="start" font-weight="bold" fill="#000">f</text>
<text x="76" y="383.4" font-size="12.3" text-anchor="start" fill="#f2f2f2">Daylight UV on</text>
<text x="165" y="383" font-size="12.3" text-anchor="start" fill="#f2f2f2">UV off</text>
<text x="400.8" y="372.8" font-size="12.3" text-anchor="start" fill="#f2f2f2">Afterglow</text>
<rect x="213.5" y="381" width="386" height="1.5" fill="url(#arr)"/>
<path d="M595.5,378.8 L640,381.8 L595.5,384.8 Z" fill="url(#arrh)"/>
<text x="77.6" y="410.8" font-size="12.3" text-anchor="end" fill="#f2f2f2">NFD/BTA</text>
<text x="77.6" y="448.8" font-size="12.3" text-anchor="end" fill="#f2f2f2">BFT/BTA</text>
<text x="77.6" y="485.9" font-size="12.3" text-anchor="end" fill="#f2f2f2">TFH/BTA</text>
<circle cx="97.8" cy="406.3" r="15.5" fill="url(#day)"/>
<path d="M85,408.3 Q88,398.3 97,396.3 Q90,403.3 95,412.3 Q99,416.3 93,417.3 Q86,414.3 85,408.3 Z" fill="#e8e8e8" fill-opacity="0.75"/>
<circle cx="102" cy="409.3" r="0.9" fill="#fff"/>
<circle cx="95" cy="413.3" r="0.8" fill="#fff"/>
<circle cx="97.8" cy="444.3" r="15.5" fill="url(#day)"/>
<path d="M95,432.3 Q103,438.3 101,448.3 Q99,455.3 94,456.3 Q98,447.3 93,440.3 Q91,434.3 95,432.3 Z" fill="#e4e4e4" fill-opacity="0.7"/>
<circle cx="102" cy="447.3" r="0.9" fill="#fff"/>
<circle cx="95" cy="451.3" r="0.8" fill="#fff"/>
<circle cx="97.8" cy="481.4" r="15.5" fill="url(#day)"/>
<ellipse cx="96" cy="479.4" rx="10" ry="8" fill="#e6e6e6" fill-opacity="0.5"/>
<circle cx="102" cy="484.4" r="0.9" fill="#fff"/>
<circle cx="95" cy="488.4" r="0.8" fill="#fff"/>
<circle cx="138.2" cy="406.3" r="15.5" fill="url(#uv0)"/>
<circle cx="178.4" cy="406.3" r="15.5" fill="url(#o0_0)"/>
<circle cx="218.1" cy="406.3" r="15.5" fill="url(#o0_1)"/>
<circle cx="257.9" cy="406.3" r="15.5" fill="url(#o0_2)"/>
<circle cx="297.6" cy="406.3" r="15.5" fill="url(#o0_3)"/>
<circle cx="337.3" cy="406.3" r="15.5" fill="url(#o0_4)"/>
<circle cx="377" cy="406.3" r="15.5" fill="url(#o0_5)"/>
<circle cx="138.2" cy="444.3" r="15.5" fill="url(#uv1)"/>
<circle cx="178.4" cy="444.3" r="15.5" fill="url(#o1_0)"/>
<circle cx="218.1" cy="444.3" r="15.5" fill="url(#o1_1)"/>
<circle cx="257.9" cy="444.3" r="15.5" fill="url(#o1_2)"/>
<circle cx="297.6" cy="444.3" r="15.5" fill="url(#o1_3)"/>
<circle cx="337.3" cy="444.3" r="15.5" fill="url(#o1_4)"/>
<circle cx="377" cy="444.3" r="15.5" fill="url(#o1_5)"/>
<circle cx="416.8" cy="444.3" r="15.5" fill="url(#o1_6)"/>
<circle cx="456.5" cy="444.3" r="15.5" fill="url(#o1_7)"/>
<circle cx="496.2" cy="444.3" r="15.5" fill="url(#o1_8)"/>
<circle cx="138.2" cy="481.4" r="15.5" fill="url(#uv2)"/>
<circle cx="178.4" cy="481.4" r="15.5" fill="url(#o2_0)"/>
<circle cx="218.1" cy="481.4" r="15.5" fill="url(#o2_1)"/>
<circle cx="257.9" cy="481.4" r="15.5" fill="url(#o2_2)"/>
<circle cx="297.6" cy="481.4" r="15.5" fill="url(#o2_3)"/>
<circle cx="337.3" cy="481.4" r="15.5" fill="url(#o2_4)"/>
<circle cx="377" cy="481.4" r="15.5" fill="url(#o2_5)"/>
<circle cx="416.8" cy="481.4" r="15.5" fill="url(#o2_6)"/>
<circle cx="456.5" cy="481.4" r="15.5" fill="url(#o2_7)"/>
<circle cx="496.2" cy="481.4" r="15.5" fill="url(#o2_8)"/>
<circle cx="536" cy="481.4" r="15.5" fill="url(#o2_9)"/>
<circle cx="575.7" cy="481.4" r="15.5" fill="url(#o2_10)"/>
<circle cx="615.4" cy="481.4" r="15.5" fill="url(#o2_11)"/>
<text x="427.2" y="410.3" font-size="12.3" text-anchor="middle" fill="#f2f2f2">17 s</text>
<text x="546.2" y="449" font-size="12.3" text-anchor="middle" fill="#f2f2f2">30 s</text>
<text x="660.6" y="486" font-size="12.3" text-anchor="middle" fill="#f2f2f2">40 s</text></svg></body></html>
